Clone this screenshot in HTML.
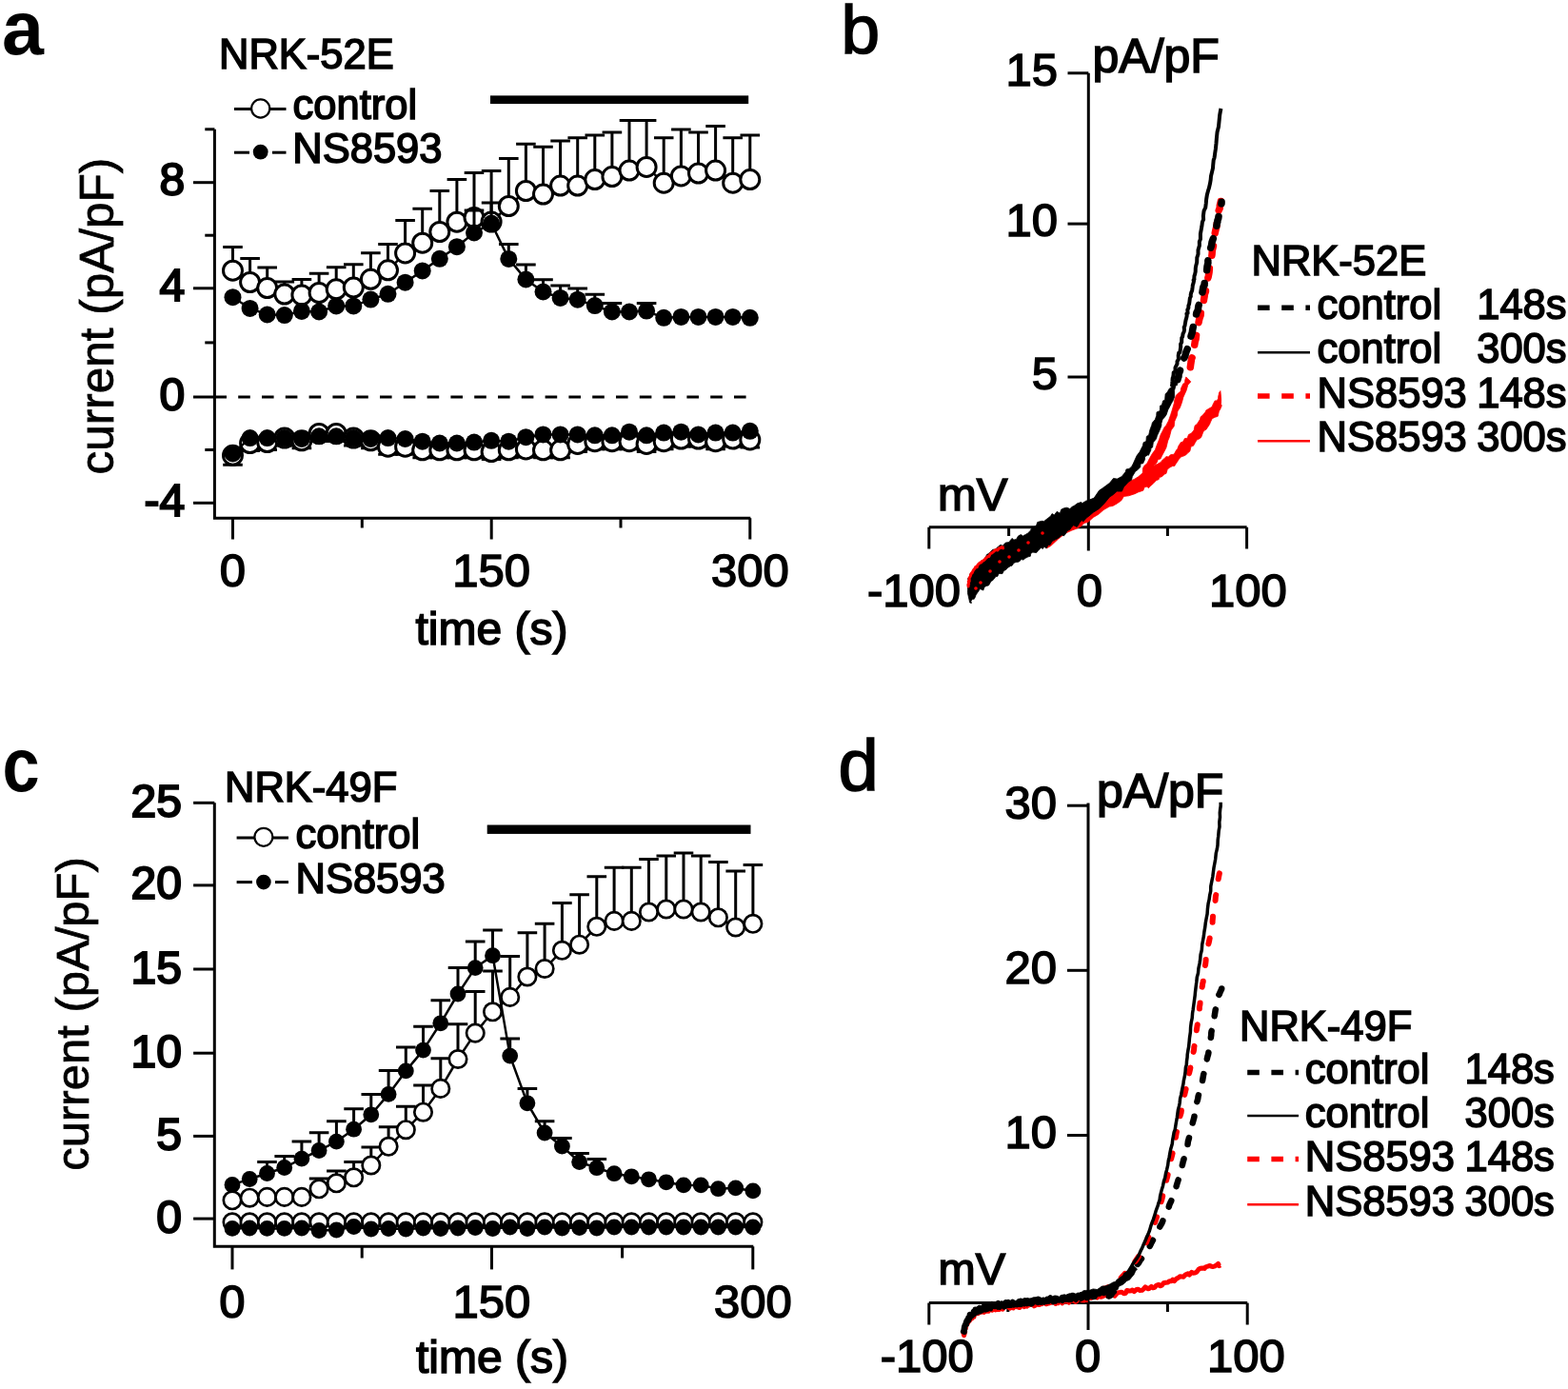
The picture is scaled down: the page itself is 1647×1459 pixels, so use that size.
<!DOCTYPE html>
<html><head><meta charset="utf-8"><title>Figure</title>
<style>
html,body{margin:0;padding:0;background:#fff;overflow:hidden;width:1647px;height:1459px;}
svg{display:block;}
text{font-family:"Liberation Sans", Arial, Helvetica, sans-serif;fill:#000;}
</style></head>
<body>
<svg width="1647" height="1459" viewBox="0 0 1647 1459">
<rect width="1647" height="1459" fill="#fff"/>
<path d="M225.4,135.8 V544.2 H788.3" fill="none" stroke="#000" stroke-width="3"/>
<line x1="203" y1="191.7" x2="225.4" y2="191.7" stroke="#000" stroke-width="3"/>
<line x1="203" y1="302.8" x2="225.4" y2="302.8" stroke="#000" stroke-width="3"/>
<line x1="203" y1="417" x2="225.4" y2="417" stroke="#000" stroke-width="3"/>
<line x1="203" y1="528.3" x2="225.4" y2="528.3" stroke="#000" stroke-width="3"/>
<line x1="215.3" y1="135.8" x2="225.4" y2="135.8" stroke="#000" stroke-width="3"/>
<line x1="215.3" y1="247.2" x2="225.4" y2="247.2" stroke="#000" stroke-width="3"/>
<line x1="215.3" y1="359.9" x2="225.4" y2="359.9" stroke="#000" stroke-width="3"/>
<line x1="215.3" y1="472.5" x2="225.4" y2="472.5" stroke="#000" stroke-width="3"/>
<line x1="244.5" y1="544.2" x2="244.5" y2="566.5" stroke="#000" stroke-width="3"/>
<line x1="516.2" y1="544.2" x2="516.2" y2="566.5" stroke="#000" stroke-width="3"/>
<line x1="787.8" y1="544.2" x2="787.8" y2="566.5" stroke="#000" stroke-width="3"/>
<line x1="380.3" y1="544.2" x2="380.3" y2="554.5" stroke="#000" stroke-width="3"/>
<line x1="652" y1="544.2" x2="652" y2="554.5" stroke="#000" stroke-width="3"/>
<line x1="225.4" y1="417" x2="786" y2="417" stroke="#000" stroke-width="3" stroke-dasharray="12.6 12.2"/>
<rect x="515" y="100.4" width="271.2" height="8.7" fill="#000"/>
<path d="M244.5,284.2 V259.5 M234.2,259.5 H254.8" stroke="#000" stroke-width="3" fill="none"/>
<path d="M262.6,296.5 V271.6 M252.3,271.6 H272.9" stroke="#000" stroke-width="3" fill="none"/>
<path d="M280.7,302.6 V281.1 M270.4,281.1 H291" stroke="#000" stroke-width="3" fill="none"/>
<path d="M298.8,309 V296 M288.5,296 H309.1" stroke="#000" stroke-width="3" fill="none"/>
<path d="M316.9,309.9 V293.5 M306.6,293.5 H327.2" stroke="#000" stroke-width="3" fill="none"/>
<path d="M335.1,307.5 V287.2 M324.8,287.2 H345.4" stroke="#000" stroke-width="3" fill="none"/>
<path d="M353.2,303.8 V280.8 M342.9,280.8 H363.5" stroke="#000" stroke-width="3" fill="none"/>
<path d="M371.3,302 V277.7 M361,277.7 H381.6" stroke="#000" stroke-width="3" fill="none"/>
<path d="M389.4,293.3 V265.8 M379.1,265.8 H399.7" stroke="#000" stroke-width="3" fill="none"/>
<path d="M407.5,283.8 V256.5 M397.2,256.5 H417.8" stroke="#000" stroke-width="3" fill="none"/>
<path d="M425.6,265.9 V231.4 M415.3,231.4 H435.9" stroke="#000" stroke-width="3" fill="none"/>
<path d="M443.7,255.2 V219.3 M433.4,219.3 H454" stroke="#000" stroke-width="3" fill="none"/>
<path d="M461.8,243.5 V200.6 M451.5,200.6 H472.1" stroke="#000" stroke-width="3" fill="none"/>
<path d="M479.9,233.2 V188.5 M469.6,188.5 H490.2" stroke="#000" stroke-width="3" fill="none"/>
<path d="M498,228.5 V181.6 M487.7,181.6 H508.3" stroke="#000" stroke-width="3" fill="none"/>
<path d="M516.1,233 V179.6 M505.8,179.6 H526.4" stroke="#000" stroke-width="3" fill="none"/>
<path d="M534.3,216.5 V166.5 M524,166.5 H544.6" stroke="#000" stroke-width="3" fill="none"/>
<path d="M552.4,200.5 V151.3 M542.1,151.3 H562.7" stroke="#000" stroke-width="3" fill="none"/>
<path d="M570.5,204.1 V154.3 M560.2,154.3 H580.8" stroke="#000" stroke-width="3" fill="none"/>
<path d="M588.6,195.1 V148 M578.3,148 H598.9" stroke="#000" stroke-width="3" fill="none"/>
<path d="M606.7,195.1 V144.8 M596.4,144.8 H617" stroke="#000" stroke-width="3" fill="none"/>
<path d="M624.8,188.6 V141.9 M614.5,141.9 H635.1" stroke="#000" stroke-width="3" fill="none"/>
<path d="M642.9,185.6 V139 M632.6,139 H653.2" stroke="#000" stroke-width="3" fill="none"/>
<path d="M661,179.1 V126.6 M650.7,126.6 H671.3" stroke="#000" stroke-width="3" fill="none"/>
<path d="M679.1,175.4 V126.6 M668.8,126.6 H689.4" stroke="#000" stroke-width="3" fill="none"/>
<path d="M697.2,192.2 V144.8 M687,144.8 H707.5" stroke="#000" stroke-width="3" fill="none"/>
<path d="M715.4,184.9 V136.1 M705.1,136.1 H725.7" stroke="#000" stroke-width="3" fill="none"/>
<path d="M733.5,182 V139 M723.2,139 H743.8" stroke="#000" stroke-width="3" fill="none"/>
<path d="M751.6,179.1 V132.5 M741.3,132.5 H761.9" stroke="#000" stroke-width="3" fill="none"/>
<path d="M769.7,192.2 V144.8 M759.4,144.8 H780" stroke="#000" stroke-width="3" fill="none"/>
<path d="M787.8,188.6 V141.9 M777.5,141.9 H798.1" stroke="#000" stroke-width="3" fill="none"/>
<polyline points="244.5,284.2 262.6,296.5 280.7,302.6 298.8,309 316.9,309.9 335.1,307.5 353.2,303.8 371.3,302 389.4,293.3 407.5,283.8 425.6,265.9 443.7,255.2 461.8,243.5 479.9,233.2 498,228.5 516.1,233 534.3,216.5 552.4,200.5 570.5,204.1 588.6,195.1 606.7,195.1 624.8,188.6 642.9,185.6 661,179.1 679.1,175.4 697.2,192.2 715.4,184.9 733.5,182 751.6,179.1 769.7,192.2 787.8,188.6" fill="none" stroke="#000" stroke-width="2.5" stroke-linejoin="round"/>
<circle cx="244.5" cy="284.2" r="10" fill="#fff" stroke="#000" stroke-width="3"/>
<circle cx="262.6" cy="296.5" r="10" fill="#fff" stroke="#000" stroke-width="3"/>
<circle cx="280.7" cy="302.6" r="10" fill="#fff" stroke="#000" stroke-width="3"/>
<circle cx="298.8" cy="309" r="10" fill="#fff" stroke="#000" stroke-width="3"/>
<circle cx="316.9" cy="309.9" r="10" fill="#fff" stroke="#000" stroke-width="3"/>
<circle cx="335.1" cy="307.5" r="10" fill="#fff" stroke="#000" stroke-width="3"/>
<circle cx="353.2" cy="303.8" r="10" fill="#fff" stroke="#000" stroke-width="3"/>
<circle cx="371.3" cy="302" r="10" fill="#fff" stroke="#000" stroke-width="3"/>
<circle cx="389.4" cy="293.3" r="10" fill="#fff" stroke="#000" stroke-width="3"/>
<circle cx="407.5" cy="283.8" r="10" fill="#fff" stroke="#000" stroke-width="3"/>
<circle cx="425.6" cy="265.9" r="10" fill="#fff" stroke="#000" stroke-width="3"/>
<circle cx="443.7" cy="255.2" r="10" fill="#fff" stroke="#000" stroke-width="3"/>
<circle cx="461.8" cy="243.5" r="10" fill="#fff" stroke="#000" stroke-width="3"/>
<circle cx="479.9" cy="233.2" r="10" fill="#fff" stroke="#000" stroke-width="3"/>
<circle cx="498" cy="228.5" r="10" fill="#fff" stroke="#000" stroke-width="3"/>
<circle cx="516.1" cy="233" r="10" fill="#fff" stroke="#000" stroke-width="3"/>
<circle cx="534.3" cy="216.5" r="10" fill="#fff" stroke="#000" stroke-width="3"/>
<circle cx="552.4" cy="200.5" r="10" fill="#fff" stroke="#000" stroke-width="3"/>
<circle cx="570.5" cy="204.1" r="10" fill="#fff" stroke="#000" stroke-width="3"/>
<circle cx="588.6" cy="195.1" r="10" fill="#fff" stroke="#000" stroke-width="3"/>
<circle cx="606.7" cy="195.1" r="10" fill="#fff" stroke="#000" stroke-width="3"/>
<circle cx="624.8" cy="188.6" r="10" fill="#fff" stroke="#000" stroke-width="3"/>
<circle cx="642.9" cy="185.6" r="10" fill="#fff" stroke="#000" stroke-width="3"/>
<circle cx="661" cy="179.1" r="10" fill="#fff" stroke="#000" stroke-width="3"/>
<circle cx="679.1" cy="175.4" r="10" fill="#fff" stroke="#000" stroke-width="3"/>
<circle cx="697.2" cy="192.2" r="10" fill="#fff" stroke="#000" stroke-width="3"/>
<circle cx="715.4" cy="184.9" r="10" fill="#fff" stroke="#000" stroke-width="3"/>
<circle cx="733.5" cy="182" r="10" fill="#fff" stroke="#000" stroke-width="3"/>
<circle cx="751.6" cy="179.1" r="10" fill="#fff" stroke="#000" stroke-width="3"/>
<circle cx="769.7" cy="192.2" r="10" fill="#fff" stroke="#000" stroke-width="3"/>
<circle cx="787.8" cy="188.6" r="10" fill="#fff" stroke="#000" stroke-width="3"/>
<path d="M498,244.5 V221 M487.7,221 H508.3" stroke="#000" stroke-width="3" fill="none"/>
<path d="M516.1,234.5 V213 M505.8,213 H526.4" stroke="#000" stroke-width="3" fill="none"/>
<path d="M534.3,271.9 V256.4 M524,256.4 H544.6" stroke="#000" stroke-width="3" fill="none"/>
<path d="M552.4,293.5 V277.9 M542.1,277.9 H562.7" stroke="#000" stroke-width="3" fill="none"/>
<path d="M570.5,306.5 V293.8 M560.2,293.8 H580.8" stroke="#000" stroke-width="3" fill="none"/>
<path d="M588.6,312.9 V300.1 M578.3,300.1 H598.9" stroke="#000" stroke-width="3" fill="none"/>
<path d="M606.7,314.7 V302.9 M596.4,302.9 H617" stroke="#000" stroke-width="3" fill="none"/>
<path d="M624.8,321.1 V309.3 M614.5,309.3 H635.1" stroke="#000" stroke-width="3" fill="none"/>
<path d="M642.9,327.5 V318.4 M632.6,318.4 H653.2" stroke="#000" stroke-width="3" fill="none"/>
<path d="M679.1,326.6 V318.4 M668.8,318.4 H689.4" stroke="#000" stroke-width="3" fill="none"/>
<polyline points="244.5,312.2 262.6,323.9 280.7,330.5 298.8,331.1 316.9,326.9 335.1,327.5 353.2,321.4 371.3,321.4 389.4,314.6 407.5,308.8 425.6,296.7 443.7,284.4 461.8,271.8 479.9,259.2 498,244.5 516.1,234.5 534.3,271.9 552.4,293.5 570.5,306.5 588.6,312.9 606.7,314.7 624.8,321.1 642.9,327.5 661,327.5 679.1,326.6 697.2,333.8 715.4,332.9 733.5,332.9 751.6,332.9 769.7,332.9 787.8,333.8" fill="none" stroke="#000" stroke-width="2.5" stroke-linejoin="round"/>
<circle cx="244.5" cy="312.2" r="9" fill="#000"/>
<circle cx="262.6" cy="323.9" r="9" fill="#000"/>
<circle cx="280.7" cy="330.5" r="9" fill="#000"/>
<circle cx="298.8" cy="331.1" r="9" fill="#000"/>
<circle cx="316.9" cy="326.9" r="9" fill="#000"/>
<circle cx="335.1" cy="327.5" r="9" fill="#000"/>
<circle cx="353.2" cy="321.4" r="9" fill="#000"/>
<circle cx="371.3" cy="321.4" r="9" fill="#000"/>
<circle cx="389.4" cy="314.6" r="9" fill="#000"/>
<circle cx="407.5" cy="308.8" r="9" fill="#000"/>
<circle cx="425.6" cy="296.7" r="9" fill="#000"/>
<circle cx="443.7" cy="284.4" r="9" fill="#000"/>
<circle cx="461.8" cy="271.8" r="9" fill="#000"/>
<circle cx="479.9" cy="259.2" r="9" fill="#000"/>
<circle cx="498" cy="244.5" r="9" fill="#000"/>
<circle cx="516.1" cy="234.5" r="9" fill="#000"/>
<circle cx="534.3" cy="271.9" r="9" fill="#000"/>
<circle cx="552.4" cy="293.5" r="9" fill="#000"/>
<circle cx="570.5" cy="306.5" r="9" fill="#000"/>
<circle cx="588.6" cy="312.9" r="9" fill="#000"/>
<circle cx="606.7" cy="314.7" r="9" fill="#000"/>
<circle cx="624.8" cy="321.1" r="9" fill="#000"/>
<circle cx="642.9" cy="327.5" r="9" fill="#000"/>
<circle cx="661" cy="327.5" r="9" fill="#000"/>
<circle cx="679.1" cy="326.6" r="9" fill="#000"/>
<circle cx="697.2" cy="333.8" r="9" fill="#000"/>
<circle cx="715.4" cy="332.9" r="9" fill="#000"/>
<circle cx="733.5" cy="332.9" r="9" fill="#000"/>
<circle cx="751.6" cy="332.9" r="9" fill="#000"/>
<circle cx="769.7" cy="332.9" r="9" fill="#000"/>
<circle cx="787.8" cy="333.8" r="9" fill="#000"/>
<path d="M244.5,478.3 V488.3 M234.2,488.3 H254.8" stroke="#000" stroke-width="3" fill="none"/>
<path d="M262.6,465.5 V473.5 M252.3,473.5 H272.9" stroke="#000" stroke-width="3" fill="none"/>
<path d="M280.7,464.6 V472.6 M270.4,472.6 H291" stroke="#000" stroke-width="3" fill="none"/>
<path d="M298.8,460 V468 M288.5,468 H309.1" stroke="#000" stroke-width="3" fill="none"/>
<path d="M316.9,462.8 V470.8 M306.6,470.8 H327.2" stroke="#000" stroke-width="3" fill="none"/>
<path d="M335.1,455.5 V463.5 M324.8,463.5 H345.4" stroke="#000" stroke-width="3" fill="none"/>
<path d="M353.2,455.5 V463.5 M342.9,463.5 H363.5" stroke="#000" stroke-width="3" fill="none"/>
<path d="M371.3,460 V468 M361,468 H381.6" stroke="#000" stroke-width="3" fill="none"/>
<path d="M389.4,462.8 V470.8 M379.1,470.8 H399.7" stroke="#000" stroke-width="3" fill="none"/>
<path d="M407.5,469.2 V477.2 M397.2,477.2 H417.8" stroke="#000" stroke-width="3" fill="none"/>
<path d="M425.6,469.2 V477.2 M415.3,477.2 H435.9" stroke="#000" stroke-width="3" fill="none"/>
<path d="M443.7,472.8 V480.8 M433.4,480.8 H454" stroke="#000" stroke-width="3" fill="none"/>
<path d="M461.8,472.8 V480.8 M451.5,480.8 H472.1" stroke="#000" stroke-width="3" fill="none"/>
<path d="M479.9,472.8 V480.8 M469.6,480.8 H490.2" stroke="#000" stroke-width="3" fill="none"/>
<path d="M498,472.8 V480.8 M487.7,480.8 H508.3" stroke="#000" stroke-width="3" fill="none"/>
<path d="M516.1,474.6 V482.6 M505.8,482.6 H526.4" stroke="#000" stroke-width="3" fill="none"/>
<path d="M534.3,472.8 V480.8 M524,480.8 H544.6" stroke="#000" stroke-width="3" fill="none"/>
<path d="M552.4,471.9 V479.9 M542.1,479.9 H562.7" stroke="#000" stroke-width="3" fill="none"/>
<path d="M570.5,472.8 V480.8 M560.2,480.8 H580.8" stroke="#000" stroke-width="3" fill="none"/>
<path d="M588.6,472.8 V480.8 M578.3,480.8 H598.9" stroke="#000" stroke-width="3" fill="none"/>
<path d="M606.7,466.4 V474.4 M596.4,474.4 H617" stroke="#000" stroke-width="3" fill="none"/>
<path d="M624.8,463.7 V471.7 M614.5,471.7 H635.1" stroke="#000" stroke-width="3" fill="none"/>
<path d="M642.9,463.7 V471.7 M632.6,471.7 H653.2" stroke="#000" stroke-width="3" fill="none"/>
<path d="M661,463.7 V471.7 M650.7,471.7 H671.3" stroke="#000" stroke-width="3" fill="none"/>
<path d="M679.1,466.4 V474.4 M668.8,474.4 H689.4" stroke="#000" stroke-width="3" fill="none"/>
<path d="M697.2,463.7 V471.7 M687,471.7 H707.5" stroke="#000" stroke-width="3" fill="none"/>
<path d="M715.4,461 V469 M705.1,469 H725.7" stroke="#000" stroke-width="3" fill="none"/>
<path d="M733.5,461 V469 M723.2,469 H743.8" stroke="#000" stroke-width="3" fill="none"/>
<path d="M751.6,463.7 V471.7 M741.3,471.7 H761.9" stroke="#000" stroke-width="3" fill="none"/>
<path d="M769.7,461 V469 M759.4,469 H780" stroke="#000" stroke-width="3" fill="none"/>
<path d="M787.8,461.9 V469.9 M777.5,469.9 H798.1" stroke="#000" stroke-width="3" fill="none"/>
<polyline points="244.5,478.3 262.6,465.5 280.7,464.6 298.8,460 316.9,462.8 335.1,455.5 353.2,455.5 371.3,460 389.4,462.8 407.5,469.2 425.6,469.2 443.7,472.8 461.8,472.8 479.9,472.8 498,472.8 516.1,474.6 534.3,472.8 552.4,471.9 570.5,472.8 588.6,472.8 606.7,466.4 624.8,463.7 642.9,463.7 661,463.7 679.1,466.4 697.2,463.7 715.4,461 733.5,461 751.6,463.7 769.7,461 787.8,461.9" fill="none" stroke="#000" stroke-width="2.5" stroke-linejoin="round"/>
<circle cx="244.5" cy="478.3" r="10" fill="#fff" stroke="#000" stroke-width="3"/>
<circle cx="262.6" cy="465.5" r="10" fill="#fff" stroke="#000" stroke-width="3"/>
<circle cx="280.7" cy="464.6" r="10" fill="#fff" stroke="#000" stroke-width="3"/>
<circle cx="298.8" cy="460" r="10" fill="#fff" stroke="#000" stroke-width="3"/>
<circle cx="316.9" cy="462.8" r="10" fill="#fff" stroke="#000" stroke-width="3"/>
<circle cx="335.1" cy="455.5" r="10" fill="#fff" stroke="#000" stroke-width="3"/>
<circle cx="353.2" cy="455.5" r="10" fill="#fff" stroke="#000" stroke-width="3"/>
<circle cx="371.3" cy="460" r="10" fill="#fff" stroke="#000" stroke-width="3"/>
<circle cx="389.4" cy="462.8" r="10" fill="#fff" stroke="#000" stroke-width="3"/>
<circle cx="407.5" cy="469.2" r="10" fill="#fff" stroke="#000" stroke-width="3"/>
<circle cx="425.6" cy="469.2" r="10" fill="#fff" stroke="#000" stroke-width="3"/>
<circle cx="443.7" cy="472.8" r="10" fill="#fff" stroke="#000" stroke-width="3"/>
<circle cx="461.8" cy="472.8" r="10" fill="#fff" stroke="#000" stroke-width="3"/>
<circle cx="479.9" cy="472.8" r="10" fill="#fff" stroke="#000" stroke-width="3"/>
<circle cx="498" cy="472.8" r="10" fill="#fff" stroke="#000" stroke-width="3"/>
<circle cx="516.1" cy="474.6" r="10" fill="#fff" stroke="#000" stroke-width="3"/>
<circle cx="534.3" cy="472.8" r="10" fill="#fff" stroke="#000" stroke-width="3"/>
<circle cx="552.4" cy="471.9" r="10" fill="#fff" stroke="#000" stroke-width="3"/>
<circle cx="570.5" cy="472.8" r="10" fill="#fff" stroke="#000" stroke-width="3"/>
<circle cx="588.6" cy="472.8" r="10" fill="#fff" stroke="#000" stroke-width="3"/>
<circle cx="606.7" cy="466.4" r="10" fill="#fff" stroke="#000" stroke-width="3"/>
<circle cx="624.8" cy="463.7" r="10" fill="#fff" stroke="#000" stroke-width="3"/>
<circle cx="642.9" cy="463.7" r="10" fill="#fff" stroke="#000" stroke-width="3"/>
<circle cx="661" cy="463.7" r="10" fill="#fff" stroke="#000" stroke-width="3"/>
<circle cx="679.1" cy="466.4" r="10" fill="#fff" stroke="#000" stroke-width="3"/>
<circle cx="697.2" cy="463.7" r="10" fill="#fff" stroke="#000" stroke-width="3"/>
<circle cx="715.4" cy="461" r="10" fill="#fff" stroke="#000" stroke-width="3"/>
<circle cx="733.5" cy="461" r="10" fill="#fff" stroke="#000" stroke-width="3"/>
<circle cx="751.6" cy="463.7" r="10" fill="#fff" stroke="#000" stroke-width="3"/>
<circle cx="769.7" cy="461" r="10" fill="#fff" stroke="#000" stroke-width="3"/>
<circle cx="787.8" cy="461.9" r="10" fill="#fff" stroke="#000" stroke-width="3"/>
<polyline points="244.5,476.5 262.6,460.1 280.7,460.1 298.8,460.1 316.9,461 335.1,458.3 353.2,458.3 371.3,460.1 389.4,461 407.5,460.1 425.6,461 443.7,463.7 461.8,465.5 479.9,465.5 498,464.6 516.1,462.8 534.3,463.7 552.4,459.2 570.5,456.4 588.6,456.4 606.7,456.4 624.8,457.3 642.9,457.3 661,453.7 679.1,457.3 697.2,454.6 715.4,453.7 733.5,456.4 751.6,454.6 769.7,454.6 787.8,452.8" fill="none" stroke="#000" stroke-width="2.5" stroke-linejoin="round"/>
<circle cx="244.5" cy="476.5" r="9" fill="#000"/>
<circle cx="262.6" cy="460.1" r="9" fill="#000"/>
<circle cx="280.7" cy="460.1" r="9" fill="#000"/>
<circle cx="298.8" cy="460.1" r="9" fill="#000"/>
<circle cx="316.9" cy="461" r="9" fill="#000"/>
<circle cx="335.1" cy="458.3" r="9" fill="#000"/>
<circle cx="353.2" cy="458.3" r="9" fill="#000"/>
<circle cx="371.3" cy="460.1" r="9" fill="#000"/>
<circle cx="389.4" cy="461" r="9" fill="#000"/>
<circle cx="407.5" cy="460.1" r="9" fill="#000"/>
<circle cx="425.6" cy="461" r="9" fill="#000"/>
<circle cx="443.7" cy="463.7" r="9" fill="#000"/>
<circle cx="461.8" cy="465.5" r="9" fill="#000"/>
<circle cx="479.9" cy="465.5" r="9" fill="#000"/>
<circle cx="498" cy="464.6" r="9" fill="#000"/>
<circle cx="516.1" cy="462.8" r="9" fill="#000"/>
<circle cx="534.3" cy="463.7" r="9" fill="#000"/>
<circle cx="552.4" cy="459.2" r="9" fill="#000"/>
<circle cx="570.5" cy="456.4" r="9" fill="#000"/>
<circle cx="588.6" cy="456.4" r="9" fill="#000"/>
<circle cx="606.7" cy="456.4" r="9" fill="#000"/>
<circle cx="624.8" cy="457.3" r="9" fill="#000"/>
<circle cx="642.9" cy="457.3" r="9" fill="#000"/>
<circle cx="661" cy="453.7" r="9" fill="#000"/>
<circle cx="679.1" cy="457.3" r="9" fill="#000"/>
<circle cx="697.2" cy="454.6" r="9" fill="#000"/>
<circle cx="715.4" cy="453.7" r="9" fill="#000"/>
<circle cx="733.5" cy="456.4" r="9" fill="#000"/>
<circle cx="751.6" cy="454.6" r="9" fill="#000"/>
<circle cx="769.7" cy="454.6" r="9" fill="#000"/>
<circle cx="787.8" cy="452.8" r="9" fill="#000"/>
<text x="194.3" y="205.3" font-size="48" stroke="#000" stroke-width="2.1" text-anchor="end">8</text>
<text x="194.3" y="316.4" font-size="48" stroke="#000" stroke-width="2.1" text-anchor="end">4</text>
<text x="194.3" y="430.6" font-size="48" stroke="#000" stroke-width="2.1" text-anchor="end">0</text>
<text x="194.3" y="541.9" font-size="48" stroke="#000" stroke-width="2.1" text-anchor="end">-4</text>
<text x="244.5" y="616.3" font-size="49" stroke="#000" stroke-width="1.6" text-anchor="middle">0</text>
<text x="516.2" y="616.3" font-size="49" stroke="#000" stroke-width="1.6" text-anchor="middle">150</text>
<text x="787.8" y="616.3" font-size="49" stroke="#000" stroke-width="1.6" text-anchor="middle">300</text>
<text x="516.5" y="676.5" font-size="48" stroke="#000" stroke-width="1.6" text-anchor="middle">time (s)</text>
<text transform="translate(119,332.2) rotate(-90)" font-size="49.5" text-anchor="middle" stroke="#000" stroke-width="0.8">current (pA/pF)</text>
<text x="230" y="71.8" font-size="43.5" stroke="#000" stroke-width="1.6">NRK-52E</text>
<line x1="246" y1="114.5" x2="300.5" y2="114.5" stroke="#000" stroke-width="3"/>
<circle cx="273.7" cy="114" r="9.6" fill="#fff" stroke="#000" stroke-width="2.2"/>
<text x="307.5" y="124.7" font-size="43.5" stroke="#000" stroke-width="1.6">control</text>
<line x1="246" y1="160.2" x2="262" y2="160.2" stroke="#000" stroke-width="3"/>
<line x1="286" y1="160.2" x2="300.5" y2="160.2" stroke="#000" stroke-width="3"/>
<circle cx="273.7" cy="159.6" r="7.9" fill="#000"/>
<text x="307.3" y="170.5" font-size="43.5" stroke="#000" stroke-width="1.6">NS8593</text>
<text x="2" y="57" font-size="79" font-weight="bold">a</text>
<line x1="1143.3" y1="76.8" x2="1143.3" y2="553.8" stroke="#000" stroke-width="3"/>
<line x1="975.8" y1="553.8" x2="1309.6" y2="553.8" stroke="#000" stroke-width="3"/>
<line x1="1121.5" y1="76.8" x2="1143.3" y2="76.8" stroke="#000" stroke-width="3"/>
<line x1="1121.5" y1="235.1" x2="1143.3" y2="235.1" stroke="#000" stroke-width="3"/>
<line x1="1121.5" y1="396" x2="1143.3" y2="396" stroke="#000" stroke-width="3"/>
<line x1="975.8" y1="553.8" x2="975.8" y2="576.5" stroke="#000" stroke-width="3"/>
<line x1="1143.3" y1="553.8" x2="1143.3" y2="578.5" stroke="#000" stroke-width="3"/>
<line x1="1309.6" y1="553.8" x2="1309.6" y2="576.5" stroke="#000" stroke-width="3"/>
<line x1="1059.6" y1="553.8" x2="1059.6" y2="563" stroke="#000" stroke-width="3"/>
<line x1="1226.4" y1="553.8" x2="1226.4" y2="563" stroke="#000" stroke-width="3"/>
<polygon points="1099.7,570.9 1105.1,567.1 1111.9,562.8 1118.5,557.7 1125,552.8 1130,548.4 1135,548 1138.5,543.4 1143.9,542.4 1149,536.2 1155.2,530 1160.4,525.7 1164,520.8 1168.7,519.5 1172.4,515.8 1177.2,512.4 1181.2,508.6 1185.1,505.9 1191.4,503.4 1195.6,500.8 1199.9,497.2 1203.4,496.2 1204.3,493.8 1206.4,493 1208.6,489.7 1211.2,488.2 1212.1,489.6 1213.7,488.1 1215.5,487.6 1219,485.7 1221.3,482.9 1223,481.7 1224.9,479.6 1227.4,480 1228.8,478.3 1230,477.6 1233.2,477.2 1235.6,472.8 1236.8,471.5 1238.1,468.1 1240.5,464.5 1242.3,464.3 1244.5,460.5 1247,460.4 1248.5,456.5 1251.5,455 1254.1,451.8 1255.1,447.1 1257.3,445.5 1260.5,440.4 1261.1,437.9 1263.2,436.2 1266,432.9 1266.9,431 1269.8,429.2 1273,427.4 1274,425 1276.1,420.9 1278.1,420.9 1279.5,418.8 1279.8,415.7 1280.1,415 1280.6,412.1 1281.3,411.5 1281.9,410.6 1282.5,416.9 1282.7,419.8 1282.5,424.7 1283.3,426 1281.7,429.9 1280.4,431.9 1279.2,437.3 1276.1,438.3 1273.2,439.7 1271.6,443.1 1270.5,445.8 1266.9,451.2 1265.9,451.5 1263.8,453.7 1261.8,459.1 1260.4,460.6 1257.1,462 1254.9,465.8 1253.5,468.3 1251,469 1249.9,473.9 1247.9,475.6 1245.8,477.8 1242.6,479.3 1240.8,479.8 1238.1,482.4 1236.5,485.3 1235.8,486 1233.7,489.5 1231.7,489.5 1228.3,491.2 1226.2,493.3 1224.9,497.5 1223.3,497.9 1220.8,500.5 1217.7,501.6 1217.2,503.6 1214.8,504.5 1211.7,507.5 1209.9,509.4 1209.1,509.8 1206.2,512.7 1205.2,511 1202.1,511.8 1200.8,515.2 1195.3,517.1 1192,518.7 1185.6,520.8 1180.4,521.4 1177.8,525.8 1173.1,529.1 1168.9,531.4 1165.3,532.1 1159.2,535.6 1153.8,540.3 1148.4,543.4 1143,548.3 1138.9,549.4 1135.3,553 1130.7,555.3 1125.9,557.1 1119.4,560 1111.7,566.1 1103.9,573.3 1099.4,575.9" fill="#ff0000" stroke="#ff0000" stroke-width="0.8" stroke-linejoin="round"/>
<polygon points="1200.4,492.2 1201.7,489.5 1204.9,486.7 1207.3,481.8 1210.3,476.6 1213.4,472.4 1215.1,467.7 1217.6,461.5 1219.1,456.7 1221,453.1 1223,449 1225.1,446.4 1227.4,442.1 1229.8,435.2 1231,431.4 1233.3,423.5 1233.9,419.5 1235.5,415.2 1237.2,413.3 1240.1,411.2 1240.5,407.9 1242.8,403.1 1244.6,402.2 1244.7,399.3 1245.8,396 1250.8,400.9 1247.8,404.2 1246,410.4 1242.9,417.2 1241.5,422.5 1239.4,428.3 1236.9,432 1236.4,436.5 1233.8,442.4 1233.2,447.8 1230.2,451.8 1228.3,459.3 1226.7,463 1225,470.1 1223.6,472.9 1220.4,478.9 1219,481.9 1216.2,482.7 1215.3,485.7 1212.2,488.8 1210.9,490.4 1207.3,493.3 1204.1,496.3 1201.9,497.6 1200.1,501.2" fill="#ff0000" stroke="#ff0000" stroke-width="0.8" stroke-linejoin="round"/>
<polyline points="1247.9,397.4 1248.3,396.1 1248.4,394 1248.8,391.8 1249.4,389.3 1250.2,386.5 1250.6,383.4 1251.1,380.2 1251.5,377.2 1252.4,375.1 1252.6,371.8 1253.7,368 1254.3,365.1 1254.7,362.4 1255.3,358.5 1256.1,356 1256.5,352.5 1257.3,349.1 1257.8,345.6 1258.2,342.2 1258.8,340.1 1259.5,336.2 1260,334.3 1261.1,331.2 1261.4,327.6 1262,325.1 1262.5,322.3 1263.2,320.4 1264.3,317 1264.5,315 1265.1,311.3 1265.5,308.7 1266.4,306.2 1266.7,303.6 1267.1,300.6 1267.6,298.2 1268,295 1268.6,292.8 1269.2,290.6 1269.7,288.1 1270.1,285.6 1270.4,281.8 1271.3,278.4 1271.6,276.1 1271.7,273.2 1272.7,269.7 1273.1,266.8 1273.3,263.1 1274,260.5 1274.7,257.4 1275.1,254.4 1275.7,251 1275.9,246.8 1276.3,244.3 1276.8,242.1 1277.6,238.9 1278.1,236.3 1278.4,232.6 1279,231.4 1279.2,228.7 1279.7,225.7 1280.1,223.8 1280,221.7 1280.8,219.5 1281.2,218.8 1281.3,215.8 1281.7,214.2 1282.3,212 1282.5,209.2 1282.5,207.7 1283.2,206.1 1283.4,204.3 1283.2,203.6" fill="none" stroke="#ff0000" stroke-width="7.5" stroke-linejoin="round" stroke-dasharray="10 14" stroke-dashoffset="12" stroke-linecap="round"/>
<polygon points="1016.4,622.7 1016.5,619.4 1016.4,617.4 1016.6,613.2 1017.9,610.9 1018.3,611.4 1016.4,607.7 1018.6,607.5 1018.8,602.8 1020,602.6 1022.3,598.6 1024.6,595.6 1028.8,591.6 1030.7,590.6 1033.1,589 1033.9,587.6 1036.7,582.3 1037.9,581.8 1041.1,579 1042.7,577.2 1045.3,577.2 1046.9,575.5 1050.9,572.2 1053.3,573.3 1055.5,570.7 1056.5,570 1060.1,569.6 1061,567.9 1063,565.4 1064.9,567.1 1067.5,566.4 1069.6,562.9 1072.4,561.5 1074.4,563 1077.7,561.2 1079.4,560.2 1082.3,557.4 1084,553.9 1086.3,553.4 1088.5,552.2 1089.7,548.5 1093.3,547.5 1094.6,547.3 1096.4,547.7 1100.1,544.8 1101.7,543.5 1103.7,542.1 1105,539.6 1107.4,540.9 1110.2,537.3 1113.4,539.2 1114.6,535.3 1116.3,534.3 1118.9,533.4 1120.9,533.2 1123.8,534.6 1126.4,532 1127.9,531.5 1130.1,529.9 1131.6,528.8 1135.8,527.4 1136.7,528.7 1139.3,527 1140.1,526.4 1143.5,525.3 1149.2,523.1 1154.5,515.2 1158.5,512.5 1165.6,507.3 1169.5,502.4 1173.4,503.1 1178.3,500.5 1182.1,495.8 1183,492.9 1186,492.4 1188.8,489.9 1190.3,487 1192.4,482.3 1194.1,478.6 1197.1,474.6 1200.3,468.3 1201.1,464.8 1203.9,463.5 1204.3,458.4 1206.7,457 1207.8,451.8 1209.7,446.7 1210.4,444 1213.3,440.7 1214.7,436.7 1215,432.9 1218.3,431.6 1218.5,426.2 1220.4,425.5 1221.6,420.9 1223.6,420.2 1224.1,413.9 1226,412.1 1228.5,407.9 1230.4,406.7 1231.3,401.9 1233.7,399.8 1234.8,397.2 1234.6,397.3 1235.6,396.6 1239,396.9 1238.1,398.3 1238.7,401.1 1237,400.4 1236.4,404.7 1235.1,404.7 1233.5,410.3 1233.7,416.7 1231.8,421.5 1230.6,423.3 1227.3,429.7 1226.8,430.6 1225.1,435.7 1222.9,438.8 1221.1,440.5 1219.9,444.7 1219.9,447.1 1218.3,451.4 1215.3,457.9 1214.6,460.8 1211.3,464.8 1210.6,469.9 1208.8,471.1 1208.9,472.8 1206.4,478.3 1205.6,477.9 1202.4,479.9 1202.6,482.5 1200.5,486.9 1198,487 1197.8,490.7 1194.6,493.8 1192.6,495.2 1189.4,500.5 1188.5,504.2 1185.5,506.1 1180.5,511.4 1178.4,516.1 1173.2,516.1 1169.1,519.7 1165.6,522 1160.1,528.7 1154.4,534.4 1148.4,538.2 1143.3,542.5 1141.2,544 1137.8,547.9 1136.2,546.5 1133.8,549.4 1132.2,552.3 1131.2,553.6 1127.6,551.7 1125,554.6 1124.1,556.1 1120.9,557.8 1119.5,560.6 1117.5,562.9 1115.1,561.9 1113.2,564.1 1110.4,565.9 1108.5,566.8 1105.2,568.6 1102.8,572.6 1101.5,572.2 1098.9,576 1096.9,574.2 1095.3,576.5 1093.5,575.3 1090.1,578.8 1088.7,580.6 1084.8,580.1 1082.7,581.4 1082.3,584.3 1080,584.8 1077.6,586.1 1074.1,588.3 1073.4,587 1070.4,590.1 1067.3,590.5 1065,591.2 1063,594.2 1061.6,594.4 1058,596.7 1057.2,598 1054.2,599.8 1053,602.6 1049.2,602.5 1047.7,605.6 1046,605.6 1042.7,609.7 1041,610.4 1038.5,614.9 1036.3,615.4 1034.1,616.5 1032.8,620.1 1029.5,618.6 1028.3,620.3 1025,625 1024.4,627.1 1023,629.6 1021.9,628.8 1019.9,631.4 1020.4,633.5 1018.6,633 1018.7,633" fill="#000" stroke="#000" stroke-width="0.8" stroke-linejoin="round"/>
<polyline points="1016.7,615.6 1017.1,616 1016.9,614 1017.6,613.6 1017.3,610.4 1018.2,610.5 1018.1,607 1018.8,606.2 1019.3,605.2 1019.9,603 1020.6,601.8 1021.1,601.8 1022.3,599.2 1022.8,598.4 1024,597.1 1024.7,595.6 1026.2,595.8 1026.7,594 1028.3,591.9 1029.5,591.1 1030.4,591 1031.6,589.5 1032.6,589.1 1033.8,588.3 1035,586.9 1035.8,586.2 1037.4,584.4 1038.9,584.4 1039.9,582.2 1041.2,581 1042.2,580.7 1043.4,579.7 1045,578.1 1046.4,577.4 1047.9,578 1049.2,575.8 1050.6,575.8 1052.3,574.6 1053.5,575.8 1054.4,575 1054.8,575" fill="none" stroke="#ff0000" stroke-width="3" stroke-linejoin="round"/>
<circle cx="1050" cy="590" r="1.8" fill="#ff0000"/>
<circle cx="1040" cy="600" r="1.8" fill="#ff0000"/>
<circle cx="1030" cy="612" r="1.8" fill="#ff0000"/>
<circle cx="1060" cy="585" r="1.8" fill="#ff0000"/>
<circle cx="1080" cy="570" r="1.8" fill="#ff0000"/>
<circle cx="1095" cy="560" r="1.8" fill="#ff0000"/>
<circle cx="1070" cy="578" r="1.8" fill="#ff0000"/>
<circle cx="1025" cy="618" r="1.8" fill="#ff0000"/>
<polyline points="1237,398.7 1237.6,396.2 1238,395.7 1238.1,392.8 1239.2,390.2 1239.9,388 1240.6,385.4 1241.1,384.3 1241.6,381 1242.5,379 1243,376.8 1243.8,375.9 1244.9,373.8 1245.4,371.5 1246.2,368.9 1247.3,366.3 1248.2,364.2 1248.8,362 1249.3,359.4 1250.4,355.4 1251.3,352.1 1252.2,349.5 1252.6,346.8 1253.4,342.9 1254.3,340 1255,337.8 1255.5,336.5 1256.1,333.7 1256.5,330.4 1256.9,328.4 1257.9,326.7 1258.4,325.2 1258.8,321.8 1259.7,319 1260,317 1260.7,314.4 1261.4,312.1 1262.3,308.9 1263,306.9 1263.2,305.3 1263.8,301.9 1264.2,300.9 1265.1,299.5 1265.2,297.3 1265.3,296.6 1266,294.8 1266.4,293.6 1266.9,292.4 1266.8,290.6 1267.1,287.8 1267.6,284.8 1267.7,283 1268,279.8 1268.9,276.2 1268.8,274 1269.5,271 1270.2,267.2 1270.6,264.2 1271.2,261.7 1272.5,257.9 1273,254.5 1274.4,250.4 1275.3,247.1 1275.7,243.5 1276.4,240.7 1277.1,239.5 1277.8,237.8 1278.2,235.3 1278.4,234.1 1278.9,232.8 1278.9,231.6 1279.7,229.5 1280,227.4 1280.1,225.8 1280.9,224.7 1281.3,221.3 1281.9,218.9 1281.9,217.5 1282.6,215.1 1283,213.9 1283.1,212.3" fill="none" stroke="#000" stroke-width="7.5" stroke-linejoin="round" stroke-dasharray="10 14" stroke-linecap="round"/>
<polyline points="1231.2,405.9 1231.1,404.6 1231.4,402.4 1231.3,401.8 1231.4,400.9 1231.7,397 1232,397.4 1232.6,393.6 1232.7,391.4 1233.9,390.8 1234.5,388.9 1234.5,386.2 1235.4,384.4 1236.5,382.1 1236.5,379.6 1237.9,377.4 1237.7,373.3 1238.2,370.6 1239.4,370.1 1239.7,367.8 1240.2,364.2 1240.1,361.5 1241.2,359.4 1241.2,357.6 1241.3,354.9 1242.1,353.7 1242.6,350.4 1243.6,348.6 1244,346.5 1243.7,343.7 1244.5,342.3 1244.9,339.8 1245.5,336.3 1246.3,333.7 1246.7,331.6 1246.4,329.3 1247.6,328.9 1247.3,325.4 1248.3,323.8 1248.4,320.8 1249.1,319.3 1249.4,317.2 1249.9,313.1 1250.8,311.4 1250.7,309.4 1251.2,307.4 1252.2,305.1 1252.6,301.8 1252.8,299.7 1253.6,297.1 1254,295.2 1253.6,294.2 1254.5,293.3 1254.3,292.5 1254.5,289.7 1255.1,288.2 1255.7,285.4 1255.8,281.5 1256.2,279.3 1257.2,275.4 1257.3,270.7 1258.5,267 1258.5,262.6 1259.9,257.9 1259.8,254 1260.9,251.3 1260.9,245.6 1261.6,241.9 1262.4,237.4 1262.9,233.3 1264.1,230.4 1263.9,226.8 1264.6,221.3 1266.2,218.2 1266.8,213.2 1267.1,209.6 1267.9,204.4 1269.1,199.9 1269.9,197.6 1271,192.8 1271.7,188.6 1272,184.9 1272.9,181.3 1274,176.6 1274.2,173.5 1274.7,168.2 1275.6,165.6 1276.2,160.9 1276.9,156.2 1277.5,150.5 1277.9,145.1 1278.6,138.4 1280,132.9 1280.7,125.8 1281.2,120.8 1282,116.2 1282.5,114" fill="none" stroke="#000" stroke-width="4" stroke-linejoin="round"/>
<text x="1111" y="90.1" font-size="49" stroke="#000" stroke-width="1.6" text-anchor="end">15</text>
<text x="1111" y="248.4" font-size="49" stroke="#000" stroke-width="1.6" text-anchor="end">10</text>
<text x="1111" y="409.3" font-size="49" stroke="#000" stroke-width="1.6" text-anchor="end">5</text>
<text x="960" y="636.8" font-size="49" stroke="#000" stroke-width="1.6" text-anchor="middle">-100</text>
<text x="1144.3" y="636.8" font-size="49" stroke="#000" stroke-width="1.6" text-anchor="middle">0</text>
<text x="1311" y="636.8" font-size="49" stroke="#000" stroke-width="1.6" text-anchor="middle">100</text>
<text x="985" y="535.5" font-size="49" stroke="#000" stroke-width="1.6">mV</text>
<text x="1147.5" y="75.5" font-size="50" stroke="#000" stroke-width="1.6">pA/pF</text>
<text x="883.5" y="55.8" font-size="73" stroke="#000" stroke-width="1.6">b</text>
<text x="1314.5" y="288.5" font-size="43.5" stroke="#000" stroke-width="1.6">NRK-52E</text>
<line x1="1321" y1="323.2" x2="1376" y2="323.2" stroke="#000" stroke-width="5.5" stroke-dasharray="12.6 12.6"/>
<text x="1383.6" y="335" font-size="43.5" stroke="#000" stroke-width="1.6">control</text>
<text x="1551.2" y="335" font-size="43.5" stroke="#000" stroke-width="1.6">148s</text>
<line x1="1321" y1="370.2" x2="1376" y2="370.2" stroke="#000" stroke-width="2.6"/>
<text x="1383.6" y="381.3" font-size="43.5" stroke="#000" stroke-width="1.6">control</text>
<text x="1551.2" y="381.3" font-size="43.5" stroke="#000" stroke-width="1.6">300s</text>
<line x1="1321" y1="416" x2="1376" y2="416" stroke="#ff0000" stroke-width="5.5" stroke-dasharray="12.6 12.6"/>
<text x="1383.6" y="428" font-size="43.5" stroke="#000" stroke-width="1.6">NS8593</text>
<text x="1551.2" y="428" font-size="43.5" stroke="#000" stroke-width="1.6">148s</text>
<line x1="1321" y1="463.3" x2="1376" y2="463.3" stroke="#ff0000" stroke-width="2.6"/>
<text x="1383.6" y="474.3" font-size="43.5" stroke="#000" stroke-width="1.6">NS8593</text>
<text x="1551.2" y="474.3" font-size="43.5" stroke="#000" stroke-width="1.6">300s</text>
<path d="M225.3,843.3 V1309.3 H791.3" fill="none" stroke="#000" stroke-width="3"/>
<line x1="203.1" y1="843.3" x2="225.3" y2="843.3" stroke="#000" stroke-width="3"/>
<line x1="203.1" y1="929.9" x2="225.3" y2="929.9" stroke="#000" stroke-width="3"/>
<line x1="203.1" y1="1018" x2="225.3" y2="1018" stroke="#000" stroke-width="3"/>
<line x1="203.1" y1="1106.2" x2="225.3" y2="1106.2" stroke="#000" stroke-width="3"/>
<line x1="203.1" y1="1193.4" x2="225.3" y2="1193.4" stroke="#000" stroke-width="3"/>
<line x1="203.1" y1="1280.1" x2="225.3" y2="1280.1" stroke="#000" stroke-width="3"/>
<line x1="244" y1="1309.3" x2="244" y2="1333.4" stroke="#000" stroke-width="3"/>
<line x1="516.5" y1="1309.3" x2="516.5" y2="1333.4" stroke="#000" stroke-width="3"/>
<line x1="790.8" y1="1309.3" x2="790.8" y2="1333.4" stroke="#000" stroke-width="3"/>
<line x1="380.2" y1="1309.3" x2="380.2" y2="1321.5" stroke="#000" stroke-width="3"/>
<line x1="653.6" y1="1309.3" x2="653.6" y2="1321.5" stroke="#000" stroke-width="3"/>
<rect x="511.7" y="866.5" width="276.8" height="9.4" fill="#000"/>
<polyline points="244,1283.8 262.2,1283.8 280.5,1283.8 298.7,1283.8 316.9,1283.8 335.1,1283.8 353.4,1283.8 371.6,1283.8 389.8,1283.8 408.1,1283.8 426.3,1283.8 444.5,1283.8 462.8,1283.8 481,1283.8 499.2,1283.8 517.5,1283.8 535.7,1283.8 553.9,1283.8 572.1,1283.8 590.4,1283.8 608.6,1283.8 626.8,1283.8 645.1,1283.8 663.3,1283.8 681.5,1283.8 699.8,1283.8 718,1283.8 736.2,1283.8 754.4,1283.8 772.7,1283.8 790.9,1283.8" fill="none" stroke="#000" stroke-width="2.5" stroke-linejoin="round"/>
<circle cx="244" cy="1283.8" r="9.2" fill="#fff" stroke="#000" stroke-width="2.7"/>
<circle cx="262.2" cy="1283.8" r="9.2" fill="#fff" stroke="#000" stroke-width="2.7"/>
<circle cx="280.5" cy="1283.8" r="9.2" fill="#fff" stroke="#000" stroke-width="2.7"/>
<circle cx="298.7" cy="1283.8" r="9.2" fill="#fff" stroke="#000" stroke-width="2.7"/>
<circle cx="316.9" cy="1283.8" r="9.2" fill="#fff" stroke="#000" stroke-width="2.7"/>
<circle cx="335.1" cy="1283.8" r="9.2" fill="#fff" stroke="#000" stroke-width="2.7"/>
<circle cx="353.4" cy="1283.8" r="9.2" fill="#fff" stroke="#000" stroke-width="2.7"/>
<circle cx="371.6" cy="1283.8" r="9.2" fill="#fff" stroke="#000" stroke-width="2.7"/>
<circle cx="389.8" cy="1283.8" r="9.2" fill="#fff" stroke="#000" stroke-width="2.7"/>
<circle cx="408.1" cy="1283.8" r="9.2" fill="#fff" stroke="#000" stroke-width="2.7"/>
<circle cx="426.3" cy="1283.8" r="9.2" fill="#fff" stroke="#000" stroke-width="2.7"/>
<circle cx="444.5" cy="1283.8" r="9.2" fill="#fff" stroke="#000" stroke-width="2.7"/>
<circle cx="462.8" cy="1283.8" r="9.2" fill="#fff" stroke="#000" stroke-width="2.7"/>
<circle cx="481" cy="1283.8" r="9.2" fill="#fff" stroke="#000" stroke-width="2.7"/>
<circle cx="499.2" cy="1283.8" r="9.2" fill="#fff" stroke="#000" stroke-width="2.7"/>
<circle cx="517.5" cy="1283.8" r="9.2" fill="#fff" stroke="#000" stroke-width="2.7"/>
<circle cx="535.7" cy="1283.8" r="9.2" fill="#fff" stroke="#000" stroke-width="2.7"/>
<circle cx="553.9" cy="1283.8" r="9.2" fill="#fff" stroke="#000" stroke-width="2.7"/>
<circle cx="572.1" cy="1283.8" r="9.2" fill="#fff" stroke="#000" stroke-width="2.7"/>
<circle cx="590.4" cy="1283.8" r="9.2" fill="#fff" stroke="#000" stroke-width="2.7"/>
<circle cx="608.6" cy="1283.8" r="9.2" fill="#fff" stroke="#000" stroke-width="2.7"/>
<circle cx="626.8" cy="1283.8" r="9.2" fill="#fff" stroke="#000" stroke-width="2.7"/>
<circle cx="645.1" cy="1283.8" r="9.2" fill="#fff" stroke="#000" stroke-width="2.7"/>
<circle cx="663.3" cy="1283.8" r="9.2" fill="#fff" stroke="#000" stroke-width="2.7"/>
<circle cx="681.5" cy="1283.8" r="9.2" fill="#fff" stroke="#000" stroke-width="2.7"/>
<circle cx="699.8" cy="1283.8" r="9.2" fill="#fff" stroke="#000" stroke-width="2.7"/>
<circle cx="718" cy="1283.8" r="9.2" fill="#fff" stroke="#000" stroke-width="2.7"/>
<circle cx="736.2" cy="1283.8" r="9.2" fill="#fff" stroke="#000" stroke-width="2.7"/>
<circle cx="754.4" cy="1283.8" r="9.2" fill="#fff" stroke="#000" stroke-width="2.7"/>
<circle cx="772.7" cy="1283.8" r="9.2" fill="#fff" stroke="#000" stroke-width="2.7"/>
<circle cx="790.9" cy="1283.8" r="9.2" fill="#fff" stroke="#000" stroke-width="2.7"/>
<polyline points="244,1290.4 262.2,1290 280.5,1290.4 298.7,1290.4 316.9,1290 335.1,1292.5 353.4,1292 371.6,1288.5 389.8,1291 408.1,1290.5 426.3,1291 444.5,1290 462.8,1290.5 481,1290 499.2,1289.5 517.5,1290.5 535.7,1289 553.9,1290.5 572.1,1289 590.4,1290 608.6,1289.5 626.8,1290 645.1,1289 663.3,1289 681.5,1289 699.8,1289 718,1289 736.2,1289 754.4,1289 772.7,1289 790.9,1289" fill="none" stroke="#000" stroke-width="2.5" stroke-linejoin="round"/>
<circle cx="244" cy="1290.4" r="8.4" fill="#000"/>
<circle cx="262.2" cy="1290" r="8.4" fill="#000"/>
<circle cx="280.5" cy="1290.4" r="8.4" fill="#000"/>
<circle cx="298.7" cy="1290.4" r="8.4" fill="#000"/>
<circle cx="316.9" cy="1290" r="8.4" fill="#000"/>
<circle cx="335.1" cy="1292.5" r="8.4" fill="#000"/>
<circle cx="353.4" cy="1292" r="8.4" fill="#000"/>
<circle cx="371.6" cy="1288.5" r="8.4" fill="#000"/>
<circle cx="389.8" cy="1291" r="8.4" fill="#000"/>
<circle cx="408.1" cy="1290.5" r="8.4" fill="#000"/>
<circle cx="426.3" cy="1291" r="8.4" fill="#000"/>
<circle cx="444.5" cy="1290" r="8.4" fill="#000"/>
<circle cx="462.8" cy="1290.5" r="8.4" fill="#000"/>
<circle cx="481" cy="1290" r="8.4" fill="#000"/>
<circle cx="499.2" cy="1289.5" r="8.4" fill="#000"/>
<circle cx="517.5" cy="1290.5" r="8.4" fill="#000"/>
<circle cx="535.7" cy="1289" r="8.4" fill="#000"/>
<circle cx="553.9" cy="1290.5" r="8.4" fill="#000"/>
<circle cx="572.1" cy="1289" r="8.4" fill="#000"/>
<circle cx="590.4" cy="1290" r="8.4" fill="#000"/>
<circle cx="608.6" cy="1289.5" r="8.4" fill="#000"/>
<circle cx="626.8" cy="1290" r="8.4" fill="#000"/>
<circle cx="645.1" cy="1289" r="8.4" fill="#000"/>
<circle cx="663.3" cy="1289" r="8.4" fill="#000"/>
<circle cx="681.5" cy="1289" r="8.4" fill="#000"/>
<circle cx="699.8" cy="1289" r="8.4" fill="#000"/>
<circle cx="718" cy="1289" r="8.4" fill="#000"/>
<circle cx="736.2" cy="1289" r="8.4" fill="#000"/>
<circle cx="754.4" cy="1289" r="8.4" fill="#000"/>
<circle cx="772.7" cy="1289" r="8.4" fill="#000"/>
<circle cx="790.9" cy="1289" r="8.4" fill="#000"/>
<path d="M335.1,1248.8 V1238 M324.8,1238 H345.4" stroke="#000" stroke-width="3" fill="none"/>
<path d="M353.4,1242.8 V1230 M343.1,1230 H363.7" stroke="#000" stroke-width="3" fill="none"/>
<path d="M371.6,1236.8 V1220.5 M361.3,1220.5 H381.9" stroke="#000" stroke-width="3" fill="none"/>
<path d="M389.8,1224 V1205.1 M379.5,1205.1 H400.1" stroke="#000" stroke-width="3" fill="none"/>
<path d="M408.1,1204.3 V1183.7 M397.8,1183.7 H418.4" stroke="#000" stroke-width="3" fill="none"/>
<path d="M426.3,1186.7 V1162.3 M416,1162.3 H436.6" stroke="#000" stroke-width="3" fill="none"/>
<path d="M444.5,1168.2 V1140 M434.2,1140 H454.8" stroke="#000" stroke-width="3" fill="none"/>
<path d="M462.8,1143.4 V1111.7 M452.5,1111.7 H473.1" stroke="#000" stroke-width="3" fill="none"/>
<path d="M481,1112.5 V1075.7 M470.7,1075.7 H491.3" stroke="#000" stroke-width="3" fill="none"/>
<path d="M499.2,1085.1 V1041.4 M488.9,1041.4 H509.5" stroke="#000" stroke-width="3" fill="none"/>
<path d="M517.5,1062.8 V1020 M507.2,1020 H527.8" stroke="#000" stroke-width="3" fill="none"/>
<path d="M535.7,1047.4 V1004.6 M525.4,1004.6 H546" stroke="#000" stroke-width="3" fill="none"/>
<path d="M553.9,1026 V979.7 M543.6,979.7 H564.2" stroke="#000" stroke-width="3" fill="none"/>
<path d="M572.1,1017.5 V970.3 M561.8,970.3 H582.4" stroke="#000" stroke-width="3" fill="none"/>
<path d="M590.4,998.3 V948.5 M580.1,948.5 H600.7" stroke="#000" stroke-width="3" fill="none"/>
<path d="M608.6,992.2 V939.7 M598.3,939.7 H618.9" stroke="#000" stroke-width="3" fill="none"/>
<path d="M626.8,973.3 V920.8 M616.5,920.8 H637.1" stroke="#000" stroke-width="3" fill="none"/>
<path d="M645.1,967.4 V911.3 M634.8,911.3 H655.4" stroke="#000" stroke-width="3" fill="none"/>
<path d="M663.3,967.4 V911.3 M653,911.3 H673.6" stroke="#000" stroke-width="3" fill="none"/>
<path d="M681.5,958 V902.6 M671.2,902.6 H691.8" stroke="#000" stroke-width="3" fill="none"/>
<path d="M699.8,955 V898.9 M689.5,898.9 H710" stroke="#000" stroke-width="3" fill="none"/>
<path d="M718,955 V896 M707.7,896 H728.3" stroke="#000" stroke-width="3" fill="none"/>
<path d="M736.2,958 V898.9 M725.9,898.9 H746.5" stroke="#000" stroke-width="3" fill="none"/>
<path d="M754.4,963.8 V905.5 M744.1,905.5 H764.7" stroke="#000" stroke-width="3" fill="none"/>
<path d="M772.7,974 V915 M762.4,915 H783" stroke="#000" stroke-width="3" fill="none"/>
<path d="M790.9,970.3 V908.4 M780.6,908.4 H801.2" stroke="#000" stroke-width="3" fill="none"/>
<polyline points="244,1260.8 262.2,1258.2 280.5,1257.4 298.7,1257.4 316.9,1257.4 335.1,1248.8 353.4,1242.8 371.6,1236.8 389.8,1224 408.1,1204.3 426.3,1186.7 444.5,1168.2 462.8,1143.4 481,1112.5 499.2,1085.1 517.5,1062.8 535.7,1047.4 553.9,1026 572.1,1017.5 590.4,998.3 608.6,992.2 626.8,973.3 645.1,967.4 663.3,967.4 681.5,958 699.8,955 718,955 736.2,958 754.4,963.8 772.7,974 790.9,970.3" fill="none" stroke="#000" stroke-width="2.5" stroke-linejoin="round"/>
<circle cx="244" cy="1260.8" r="9.2" fill="#fff" stroke="#000" stroke-width="2.7"/>
<circle cx="262.2" cy="1258.2" r="9.2" fill="#fff" stroke="#000" stroke-width="2.7"/>
<circle cx="280.5" cy="1257.4" r="9.2" fill="#fff" stroke="#000" stroke-width="2.7"/>
<circle cx="298.7" cy="1257.4" r="9.2" fill="#fff" stroke="#000" stroke-width="2.7"/>
<circle cx="316.9" cy="1257.4" r="9.2" fill="#fff" stroke="#000" stroke-width="2.7"/>
<circle cx="335.1" cy="1248.8" r="9.2" fill="#fff" stroke="#000" stroke-width="2.7"/>
<circle cx="353.4" cy="1242.8" r="9.2" fill="#fff" stroke="#000" stroke-width="2.7"/>
<circle cx="371.6" cy="1236.8" r="9.2" fill="#fff" stroke="#000" stroke-width="2.7"/>
<circle cx="389.8" cy="1224" r="9.2" fill="#fff" stroke="#000" stroke-width="2.7"/>
<circle cx="408.1" cy="1204.3" r="9.2" fill="#fff" stroke="#000" stroke-width="2.7"/>
<circle cx="426.3" cy="1186.7" r="9.2" fill="#fff" stroke="#000" stroke-width="2.7"/>
<circle cx="444.5" cy="1168.2" r="9.2" fill="#fff" stroke="#000" stroke-width="2.7"/>
<circle cx="462.8" cy="1143.4" r="9.2" fill="#fff" stroke="#000" stroke-width="2.7"/>
<circle cx="481" cy="1112.5" r="9.2" fill="#fff" stroke="#000" stroke-width="2.7"/>
<circle cx="499.2" cy="1085.1" r="9.2" fill="#fff" stroke="#000" stroke-width="2.7"/>
<circle cx="517.5" cy="1062.8" r="9.2" fill="#fff" stroke="#000" stroke-width="2.7"/>
<circle cx="535.7" cy="1047.4" r="9.2" fill="#fff" stroke="#000" stroke-width="2.7"/>
<circle cx="553.9" cy="1026" r="9.2" fill="#fff" stroke="#000" stroke-width="2.7"/>
<circle cx="572.1" cy="1017.5" r="9.2" fill="#fff" stroke="#000" stroke-width="2.7"/>
<circle cx="590.4" cy="998.3" r="9.2" fill="#fff" stroke="#000" stroke-width="2.7"/>
<circle cx="608.6" cy="992.2" r="9.2" fill="#fff" stroke="#000" stroke-width="2.7"/>
<circle cx="626.8" cy="973.3" r="9.2" fill="#fff" stroke="#000" stroke-width="2.7"/>
<circle cx="645.1" cy="967.4" r="9.2" fill="#fff" stroke="#000" stroke-width="2.7"/>
<circle cx="663.3" cy="967.4" r="9.2" fill="#fff" stroke="#000" stroke-width="2.7"/>
<circle cx="681.5" cy="958" r="9.2" fill="#fff" stroke="#000" stroke-width="2.7"/>
<circle cx="699.8" cy="955" r="9.2" fill="#fff" stroke="#000" stroke-width="2.7"/>
<circle cx="718" cy="955" r="9.2" fill="#fff" stroke="#000" stroke-width="2.7"/>
<circle cx="736.2" cy="958" r="9.2" fill="#fff" stroke="#000" stroke-width="2.7"/>
<circle cx="754.4" cy="963.8" r="9.2" fill="#fff" stroke="#000" stroke-width="2.7"/>
<circle cx="772.7" cy="974" r="9.2" fill="#fff" stroke="#000" stroke-width="2.7"/>
<circle cx="790.9" cy="970.3" r="9.2" fill="#fff" stroke="#000" stroke-width="2.7"/>
<path d="M280.5,1232.5 V1220.5 M270.2,1220.5 H290.8" stroke="#000" stroke-width="3" fill="none"/>
<path d="M298.7,1226.5 V1214.5 M288.4,1214.5 H309" stroke="#000" stroke-width="3" fill="none"/>
<path d="M316.9,1217.1 V1199.1 M306.6,1199.1 H327.2" stroke="#000" stroke-width="3" fill="none"/>
<path d="M335.1,1208.5 V1189.7 M324.8,1189.7 H345.4" stroke="#000" stroke-width="3" fill="none"/>
<path d="M353.4,1199.1 V1177.7 M343.1,1177.7 H363.7" stroke="#000" stroke-width="3" fill="none"/>
<path d="M371.6,1186.2 V1164.8 M361.3,1164.8 H381.9" stroke="#000" stroke-width="3" fill="none"/>
<path d="M389.8,1170.8 V1149.4 M379.5,1149.4 H400.1" stroke="#000" stroke-width="3" fill="none"/>
<path d="M408.1,1149.4 V1124.5 M397.8,1124.5 H418.4" stroke="#000" stroke-width="3" fill="none"/>
<path d="M426.3,1124.9 V1100 M416,1100 H436.6" stroke="#000" stroke-width="3" fill="none"/>
<path d="M444.5,1103.1 V1078.3 M434.2,1078.3 H454.8" stroke="#000" stroke-width="3" fill="none"/>
<path d="M462.8,1074.8 V1050.8 M452.5,1050.8 H473.1" stroke="#000" stroke-width="3" fill="none"/>
<path d="M481,1044 V1016.6 M470.7,1016.6 H491.3" stroke="#000" stroke-width="3" fill="none"/>
<path d="M499.2,1016.6 V989.1 M488.9,989.1 H509.5" stroke="#000" stroke-width="3" fill="none"/>
<path d="M517.5,1003.7 V977.1 M507.2,977.1 H527.8" stroke="#000" stroke-width="3" fill="none"/>
<path d="M535.7,1109.1 V1091.1 M525.4,1091.1 H546" stroke="#000" stroke-width="3" fill="none"/>
<path d="M553.9,1158.8 V1143.4 M543.6,1143.4 H564.2" stroke="#000" stroke-width="3" fill="none"/>
<path d="M572.1,1190 V1177.7 M561.8,1177.7 H582.4" stroke="#000" stroke-width="3" fill="none"/>
<path d="M590.4,1204 V1195.5 M580.1,1195.5 H600.7" stroke="#000" stroke-width="3" fill="none"/>
<path d="M608.6,1220.6 V1211.5 M598.3,1211.5 H618.9" stroke="#000" stroke-width="3" fill="none"/>
<path d="M626.8,1226.7 V1217.5 M616.5,1217.5 H637.1" stroke="#000" stroke-width="3" fill="none"/>
<polyline points="244,1244.5 262.2,1238.5 280.5,1232.5 298.7,1226.5 316.9,1217.1 335.1,1208.5 353.4,1199.1 371.6,1186.2 389.8,1170.8 408.1,1149.4 426.3,1124.9 444.5,1103.1 462.8,1074.8 481,1044 499.2,1016.6 517.5,1003.7 535.7,1109.1 553.9,1158.8 572.1,1190 590.4,1204 608.6,1220.6 626.8,1226.7 645.1,1232.7 663.3,1235.8 681.5,1238.8 699.8,1241.8 718,1244.9 736.2,1244.9 754.4,1248.7 772.7,1247.9 790.9,1250.9" fill="none" stroke="#000" stroke-width="2.5" stroke-linejoin="round"/>
<circle cx="244" cy="1244.5" r="8.4" fill="#000"/>
<circle cx="262.2" cy="1238.5" r="8.4" fill="#000"/>
<circle cx="280.5" cy="1232.5" r="8.4" fill="#000"/>
<circle cx="298.7" cy="1226.5" r="8.4" fill="#000"/>
<circle cx="316.9" cy="1217.1" r="8.4" fill="#000"/>
<circle cx="335.1" cy="1208.5" r="8.4" fill="#000"/>
<circle cx="353.4" cy="1199.1" r="8.4" fill="#000"/>
<circle cx="371.6" cy="1186.2" r="8.4" fill="#000"/>
<circle cx="389.8" cy="1170.8" r="8.4" fill="#000"/>
<circle cx="408.1" cy="1149.4" r="8.4" fill="#000"/>
<circle cx="426.3" cy="1124.9" r="8.4" fill="#000"/>
<circle cx="444.5" cy="1103.1" r="8.4" fill="#000"/>
<circle cx="462.8" cy="1074.8" r="8.4" fill="#000"/>
<circle cx="481" cy="1044" r="8.4" fill="#000"/>
<circle cx="499.2" cy="1016.6" r="8.4" fill="#000"/>
<circle cx="517.5" cy="1003.7" r="8.4" fill="#000"/>
<circle cx="535.7" cy="1109.1" r="8.4" fill="#000"/>
<circle cx="553.9" cy="1158.8" r="8.4" fill="#000"/>
<circle cx="572.1" cy="1190" r="8.4" fill="#000"/>
<circle cx="590.4" cy="1204" r="8.4" fill="#000"/>
<circle cx="608.6" cy="1220.6" r="8.4" fill="#000"/>
<circle cx="626.8" cy="1226.7" r="8.4" fill="#000"/>
<circle cx="645.1" cy="1232.7" r="8.4" fill="#000"/>
<circle cx="663.3" cy="1235.8" r="8.4" fill="#000"/>
<circle cx="681.5" cy="1238.8" r="8.4" fill="#000"/>
<circle cx="699.8" cy="1241.8" r="8.4" fill="#000"/>
<circle cx="718" cy="1244.9" r="8.4" fill="#000"/>
<circle cx="736.2" cy="1244.9" r="8.4" fill="#000"/>
<circle cx="754.4" cy="1248.7" r="8.4" fill="#000"/>
<circle cx="772.7" cy="1247.9" r="8.4" fill="#000"/>
<circle cx="790.9" cy="1250.9" r="8.4" fill="#000"/>
<text x="191" y="857.8" font-size="48" stroke="#000" stroke-width="2.1" text-anchor="end">25</text>
<text x="191" y="944.4" font-size="48" stroke="#000" stroke-width="2.1" text-anchor="end">20</text>
<text x="191" y="1032.5" font-size="48" stroke="#000" stroke-width="2.1" text-anchor="end">15</text>
<text x="191" y="1120.7" font-size="48" stroke="#000" stroke-width="2.1" text-anchor="end">10</text>
<text x="191" y="1207.9" font-size="48" stroke="#000" stroke-width="2.1" text-anchor="end">5</text>
<text x="191" y="1294.6" font-size="48" stroke="#000" stroke-width="2.1" text-anchor="end">0</text>
<text x="244" y="1384" font-size="49" stroke="#000" stroke-width="1.6" text-anchor="middle">0</text>
<text x="516.5" y="1384" font-size="49" stroke="#000" stroke-width="1.6" text-anchor="middle">150</text>
<text x="790.8" y="1384" font-size="49" stroke="#000" stroke-width="1.6" text-anchor="middle">300</text>
<text x="517" y="1442" font-size="48" stroke="#000" stroke-width="1.6" text-anchor="middle">time (s)</text>
<text transform="translate(92.5,1065) rotate(-90)" font-size="49" text-anchor="middle" stroke="#000" stroke-width="0.8">current (pA/pF)</text>
<text x="236" y="842" font-size="43.5" stroke="#000" stroke-width="1.6">NRK-49F</text>
<line x1="248.6" y1="880" x2="303" y2="880" stroke="#000" stroke-width="3"/>
<circle cx="276.9" cy="879.3" r="9.5" fill="#fff" stroke="#000" stroke-width="2.2"/>
<text x="310.5" y="890.5" font-size="43.5" stroke="#000" stroke-width="1.6">control</text>
<line x1="248.6" y1="926.6" x2="265" y2="926.6" stroke="#000" stroke-width="3"/>
<line x1="289" y1="926.6" x2="303" y2="926.6" stroke="#000" stroke-width="3"/>
<circle cx="276.9" cy="926.6" r="7.8" fill="#000"/>
<text x="310.5" y="937.5" font-size="43.5" stroke="#000" stroke-width="1.6">NS8593</text>
<text transform="translate(2.5,830.5) scale(0.89,1)" font-size="79" font-weight="bold">c</text>
<line x1="1143" y1="843.4" x2="1143" y2="1368.6" stroke="#000" stroke-width="3"/>
<line x1="975.8" y1="1368.6" x2="1310.2" y2="1368.6" stroke="#000" stroke-width="3"/>
<line x1="1121" y1="846.2" x2="1143" y2="846.2" stroke="#000" stroke-width="3"/>
<line x1="1121" y1="1019.3" x2="1143" y2="1019.3" stroke="#000" stroke-width="3"/>
<line x1="1121" y1="1192.5" x2="1143" y2="1192.5" stroke="#000" stroke-width="3"/>
<line x1="975.8" y1="1368.6" x2="975.8" y2="1391.5" stroke="#000" stroke-width="3"/>
<line x1="1143" y1="1368.6" x2="1143" y2="1397" stroke="#000" stroke-width="3"/>
<line x1="1310.2" y1="1368.6" x2="1310.2" y2="1391.5" stroke="#000" stroke-width="3"/>
<line x1="1058.8" y1="1368.6" x2="1058.8" y2="1378" stroke="#000" stroke-width="3"/>
<line x1="1226.4" y1="1368.6" x2="1226.4" y2="1378" stroke="#000" stroke-width="3"/>
<polyline points="1012,1402.6 1013,1401.2 1012.6,1402.7 1012.1,1400.5 1012.4,1400.6 1013.6,1398.8 1012.6,1398.1 1013.4,1397.8 1013.5,1396.6 1014.2,1395.4 1013.9,1396.1 1013.9,1394.4 1014.5,1393.9 1014.4,1393.9 1015.1,1389.8 1015.4,1390.3 1015.4,1389.6 1016.5,1389.9 1016.8,1387.6 1017.1,1388.6 1018.6,1387.1 1018.1,1387.4 1018.9,1384.6 1019,1386 1020.6,1384.9 1020.6,1384 1020.9,1384.9 1021.7,1383.1 1023,1383.2 1023.2,1380.8 1024.1,1379.7 1025.2,1380 1026.1,1379.2 1026.2,1378.7 1027.1,1378 1027.4,1379.6 1028.7,1377.5 1029.7,1377.9 1030.9,1378.2 1032.2,1376.8 1033.6,1378.3 1033.4,1377.9 1035.8,1377.4 1035.9,1377.3 1037.8,1374.2 1038.1,1377.3 1040.3,1374.6 1040.7,1374 1042.2,1376.1 1043.6,1373.6 1045.6,1375.8 1045.7,1375.9 1047.6,1375.4 1048.8,1375.6 1050.2,1375.3 1050.6,1374.6 1052.2,1374.7 1053.3,1375.1 1054.7,1372.7 1055.4,1372.1 1057,1371.7 1058.2,1371.9 1059.4,1373 1060.7,1374.2 1061.1,1374 1063,1372.9 1064.4,1373.8 1065.2,1372.2 1067.3,1370.8 1068,1372.7 1068.3,1372.5 1070.5,1373.5 1071.1,1373.6 1072.6,1371.6 1074.3,1369.9 1075.3,1371.9 1075.9,1372.6 1077.1,1371 1078.6,1372 1079.3,1370.6 1080.9,1370.9 1082.7,1369.8 1084,1370.1 1084.9,1369.5 1086.2,1371.8 1087.7,1371 1088.6,1369.2 1089.9,1370 1091.6,1370.6 1092.1,1370.2 1094.6,1369.5 1094.6,1368.5 1095.8,1367.9 1098.3,1369.3 1099.1,1369.8 1100.7,1369.1 1101.4,1369 1102.7,1368.8 1103.9,1367.3 1105,1368.1 1106.4,1366.7 1106.7,1366.3 1108.8,1369.4 1109.8,1367.3 1111.3,1368.7 1112.1,1366.7 1112.9,1367.2 1114.1,1367.1 1115.8,1368.8 1116.2,1367.4 1117.3,1365.6 1119.6,1367.2 1121,1366.6 1120.9,1366.2 1122.9,1368.1 1124.6,1366.3 1125,1364.8 1126.5,1365.1 1127,1364.2 1128,1366.5 1129.5,1367.4 1130.7,1366.9 1132.2,1363.6 1134.6,1364.2 1136.1,1363.8 1136.6,1365.8 1139,1365.9 1140.4,1362.9 1141.4,1365 1142.2,1365.7 1142.6,1365.7" fill="none" stroke="#ff0000" stroke-width="5" stroke-linejoin="round"/>
<polyline points="1012.8,1396.7 1011.9,1398.6 1013.1,1396 1012.5,1397.6 1012.4,1397.3 1013,1393.6 1013,1394.6 1013.2,1394.1 1013,1393.7 1013.5,1392.3 1014.2,1390.7 1014.1,1391.3 1015.2,1390.5 1015,1388 1014.7,1389.6 1016,1388.3 1015.9,1386.8 1017.3,1386.8 1017.2,1384.2 1017.4,1385.6 1017.8,1384.2 1018.7,1384.3 1019.5,1381.4 1018.8,1380.7 1020,1381.2 1021.1,1381.7 1020.6,1380.9 1022.4,1380.4 1022.7,1377.7 1023.8,1379.1 1024.3,1379 1024.5,1375.5 1025.6,1377.6 1026,1377 1027.9,1374.7 1028.3,1375.9 1029,1373.8 1029.6,1375.4 1031.4,1374 1031.4,1374.9 1033.4,1372.5 1034.2,1374.6 1035.8,1373 1036.3,1373 1037.1,1371.3 1038.4,1372.9 1039.9,1372.2 1041.2,1371.8 1042,1369.9 1044.5,1370.9 1044.4,1371.7 1046.6,1369.8 1047.5,1370.3 1048.6,1369 1049.1,1372.3 1051.5,1370.4 1052.3,1369.4 1053.8,1369.9 1055.2,1371 1056.3,1371.6 1056.6,1368.1 1057.8,1368.5 1058.8,1367.9 1060.7,1370.8 1061.7,1370.9 1063.6,1367.6 1064.3,1368.7 1064.9,1370.6 1066.3,1369.1 1068,1370.4 1069.2,1368.2 1070.1,1367.2 1072.1,1370.1 1072.2,1366.5 1073.4,1367.5 1075.5,1369.4 1076.6,1366.1 1077.7,1368.4 1078.7,1369.2 1079.1,1366.1 1081.4,1368.8 1082.5,1366.3 1083.7,1367.8 1084.3,1366.1 1085.8,1365.3 1087.5,1365.3 1088.4,1365.1 1090.4,1364.5 1091.8,1365 1092.1,1367.5 1093.6,1367.4 1095.8,1367.1 1095.9,1365.4 1097.1,1367 1099.4,1365.8 1100,1364.6 1101.7,1365 1102.6,1363.7 1103.2,1363.2 1105.1,1364.9 1105.5,1365.9 1106.9,1364.2 1107.9,1363.6 1110.1,1363.7 1110.3,1364.1 1111.7,1365.5 1112.6,1365.7 1113.8,1365.3 1115.8,1362.7 1116.8,1362.8 1117.7,1362.4 1119,1365.1 1121.1,1364.8 1121,1362.4 1123.3,1361.4 1124.3,1362.1 1125.8,1361 1126.8,1362.1 1127,1360.7 1129.2,1362.4 1129.5,1362 1131.9,1361 1132.8,1360.6 1133.8,1362.6 1136.1,1360.4 1136.6,1359.8 1138.8,1361.1 1139.7,1359.8 1141.4,1361.5 1142.7,1360.9 1142.6,1358.9" fill="none" stroke="#000" stroke-width="6" stroke-linejoin="round"/>
<polyline points="1012.8,1399.7 1012.9,1398 1013.1,1398.4 1013.3,1399.6 1012.9,1395.8 1013.6,1396.6 1013.7,1395 1012.9,1396.2 1013.3,1392.9 1013.6,1393.6 1013.3,1392.6 1014.2,1391.8 1014.1,1391.7 1015.4,1391.5 1015.1,1390.2 1015.5,1389.6 1015.5,1389.2 1017.2,1387.1 1017.1,1386.5 1017.6,1384 1018.7,1384 1018,1382.9 1018.7,1384.8 1018.9,1381.6 1020.4,1381.3 1020,1382.1 1021.4,1381.3 1022.2,1379.2 1023.1,1380.8 1022.6,1378.2 1024,1379 1024.4,1377.2 1025.4,1376.7 1026.5,1378.9 1026.7,1377.4 1028.5,1375.6 1029.5,1378 1029.8,1375.7 1031.4,1375.8 1031.8,1376.9 1033.4,1374.4 1033.7,1374.1 1035.1,1376.1 1036.8,1375.6 1038,1375.2 1038.2,1373.8 1040.7,1375 1040.9,1373 1042.7,1372.6 1043.8,1371.3 1044.9,1372.7 1045.5,1371.2 1048.1,1373.4 1049.2,1372.7 1050.2,1373.4 1051.6,1370.3 1052.4,1371 1053.7,1370.9 1054.7,1373.1 1056,1370.5 1057,1371.1 1058.8,1370.4 1059.1,1371.6 1060.1,1371.3 1062.5,1370.9 1062.7,1370.6 1064.2,1369.3 1064.9,1369.1 1066.3,1370 1067.5,1369.3 1068.4,1370.3 1070.7,1370.4 1071.5,1370.4 1072.1,1370.5 1073.7,1369.7 1075.1,1369.3 1075.9,1368.3 1076.9,1369.2 1078.4,1369.3 1079.1,1368.3 1081.5,1367.8 1082.3,1368.5 1083.2,1370.2 1084.6,1369.3 1085.7,1366.6 1088,1367.8 1088.2,1367.4 1090.1,1368.6 1090.9,1366.6 1093.4,1368.3 1093.5,1366.7 1095,1367.8 1096.6,1368.3 1098.1,1367 1099.2,1367.7 1100.4,1366.6 1101.7,1367.3 1103,1365.1 1104.1,1364.5 1105.2,1366.5 1106,1367.8 1107.3,1365.7 1108.8,1367.2 1109.8,1365.3 1110.7,1365.5 1112.3,1364.8 1113,1365.6 1114.2,1364.7 1116,1366.5 1116.8,1364.9 1117.5,1364.3 1118.7,1365.2 1120.5,1363.3 1122.2,1364 1123.2,1365.7 1124.6,1363.3 1125,1365.7 1125.6,1362.5 1127.6,1364 1129.4,1364.8 1130.1,1365.5 1131.3,1363.6 1133,1363 1134,1363.5 1135.5,1364.6 1137.5,1362.9 1138.1,1362.1 1139.9,1362.6 1141.3,1363.6 1142.9,1362.1 1142.9,1362.4" fill="none" stroke="#000" stroke-width="5" stroke-linejoin="round"/>
<polyline points="1143.6,1361.5 1143.4,1362.9 1143.3,1361.5 1144.7,1363 1144.6,1360.9 1145.6,1362.6 1146.1,1363.5 1147,1361.8 1147,1361.4 1148.4,1362 1149.2,1360.9 1151.2,1362.1 1152.5,1363.1 1154.6,1360.2 1156.3,1362.2 1158.2,1361.8 1159.9,1360.4 1163.1,1361 1165,1359.6 1166.8,1360.4 1168.5,1360.4 1170.8,1361.2 1172.7,1359.1 1174.1,1357.9 1176.8,1357.4 1177.9,1357.2 1180.4,1358.7 1182.4,1358.2 1183.6,1355.4 1186.4,1356 1188.3,1355.7 1189.5,1355 1191.3,1356.6 1193.8,1354.5 1195.6,1354.3 1197,1355.4 1199.6,1355.3 1201.3,1353.9 1203,1351.8 1205.7,1353.8 1206.9,1353.5 1209.4,1351.3 1211.1,1352.8 1212.8,1352.4 1214.5,1350.3 1217,1349.3 1218.4,1350.8 1220.5,1350.1 1222.2,1347.7 1224.2,1347.2 1226.9,1346.9 1228.3,1345.7 1230.2,1345.8 1231.9,1344.1 1233.5,1345.6 1235.7,1343.1 1237.4,1342.4 1239.4,1340.8 1241.9,1340.9 1243.2,1341.2 1245,1339.1 1247.8,1337.9 1249.3,1339.2 1251.7,1336.3 1253.1,1337.2 1255.1,1337.1 1256.8,1336.3 1259.1,1333.3 1260.9,1332.3 1263.1,1332 1265.2,1332.4 1266.4,1330.8 1268.7,1330.2 1271,1329.4 1272.6,1330.2 1274.3,1330.5 1276.3,1329.8 1278.2,1328.5 1279.5,1327.5 1280.6,1329.6 1281.8,1328.8" fill="none" stroke="#ff0000" stroke-width="5" stroke-linejoin="round"/>
<polyline points="1142.8,1361.1 1143.9,1361.1 1145.1,1360.7 1146.5,1361.1 1148.1,1361.9 1149.9,1361.7 1151.9,1362.3 1153.6,1362.4 1154.8,1361.7 1156.2,1362.2 1158,1361.9 1159.3,1362.4 1160.9,1361.9 1162.4,1361.9 1163.8,1361.3 1165.1,1361.5 1167.1,1360.3 1168.6,1357.9 1170.5,1356.2 1172.5,1354.2 1174.4,1351.6 1176.7,1348.9 1178.8,1346.7 1180.7,1343.8 1182.6,1341.9 1184.5,1338.9 1186.6,1337.6 1188.3,1334.5 1190.6,1333.1 1192.1,1330.4 1194,1328.9 1195.9,1326.7 1197.9,1323.4 1199.6,1321.4 1201.3,1319.5 1202.6,1316.2 1204.5,1314.1 1206.1,1311.9 1207.5,1309.5 1209,1306.3 1210.3,1303.8 1212.1,1300.7 1213.9,1297.2 1215.5,1293.9 1217.1,1291.6 1218.5,1288.1 1220.4,1284.9 1221.8,1281.2 1223,1278.1 1224.6,1274.8 1225.9,1271.5 1227.4,1269 1228.4,1265.3 1229.8,1262.4 1231.2,1259.1 1232.1,1256.5 1233.1,1253 1234.3,1250.1 1235.4,1246.9 1236.3,1243.6 1237.4,1240.1 1238.4,1237.4 1239,1233.6 1240.1,1230.3 1240.8,1227.2 1241.7,1224.6 1242.6,1220.7 1243.4,1218 1244.2,1214.5 1244.8,1211.1 1246,1208.8 1246.3,1205.6 1247.5,1202.3 1247.9,1199 1248.9,1195.5 1249.7,1192.1 1250.7,1189.7 1251.4,1186.9 1252.2,1182.9 1252.7,1179.5 1253.4,1177.1 1254.4,1173.4 1254.8,1170.6 1255.7,1167.8 1256,1164.4 1256.9,1161.2 1257.3,1157.4 1258.2,1154.4 1258.6,1151.5 1259.4,1148.6 1260.1,1144.5 1261.1,1142.1 1262,1139 1262.9,1136.1 1263.5,1132.4 1264.1,1129 1265,1125.6 1265.8,1122.5 1266.4,1120.3 1266.9,1116 1267.7,1113 1268.4,1109.6 1269.1,1107.5 1269.7,1103.8 1270,1100.9 1270.6,1097.4 1271,1094.3 1271.6,1091.6 1272.2,1087.6 1272.3,1084.8 1272.9,1081.5 1273.2,1078.1 1273.8,1075.4 1274.7,1072.6 1275.3,1069.3 1276,1065.4 1276.6,1061.3 1277.2,1058.7 1277.6,1055.5 1278.6,1052.5 1279.1,1049.8 1279.5,1048.2 1280,1045.4 1281,1043.9 1281.4,1042.6 1282.1,1041.1 1282.7,1039.9 1283.2,1038.7 1283.3,1037.6" fill="none" stroke="#000" stroke-width="6.5" stroke-linejoin="round" stroke-dasharray="7 16" stroke-linecap="round"/>
<polyline points="1143.2,1361.1 1144.1,1360.9 1145.9,1359.4 1148.1,1358.8 1150.3,1358.3 1152.6,1357.4 1155.1,1356.3 1157.7,1354.7 1160,1353.5 1162.2,1353.2 1164.5,1351.9 1166.9,1349.9 1169.3,1349.2 1171.2,1347.9 1173.7,1345.4 1176.3,1344 1178.5,1341.3 1180.9,1338.7 1183.1,1336.4 1185.5,1333.7 1188.1,1330.3 1190.8,1327.2 1193.2,1324 1195.6,1320.4 1197.8,1317.2 1199.6,1313.3 1201.8,1309.3 1204,1305.2 1205.8,1300.4 1208,1296.7 1209.8,1291.4 1211.4,1287.5 1212.9,1284.6 1214,1281.3 1215.4,1277.3 1216.2,1274.5 1217.4,1271.8 1217.9,1268.2 1218.7,1266.2 1219.5,1262.7 1220.5,1259.4 1221.5,1255.1 1222.7,1251.7 1223.5,1248.1 1224.6,1243 1225.3,1239 1226.3,1235.6 1227.4,1230.4 1228,1227 1229.2,1222.1 1230.1,1217.4 1231.2,1213.1 1232.2,1208.8 1232.8,1203.8 1233.8,1199.9 1235,1194.2 1235.7,1190 1236.8,1185.8 1237.7,1181.2 1238.5,1177.1 1239.6,1172.1 1240.6,1168.8 1241.3,1163.2 1242.6,1158.5 1243.5,1153.7 1244.6,1148.2 1246,1142.4 1247.6,1134.8 1248.7,1129 1250.2,1122.5 1251.3,1116.3 1252.2,1110.4 1253.3,1106.4 1254.1,1102.6 1254.3,1099.8 1254.9,1097.2 1255.1,1095.2 1255.3,1093.6 1255.3,1091.8 1255.7,1090.8 1256.1,1087.8 1256.3,1085.2 1256.8,1082.6 1257,1080.9 1257.5,1077.8 1258,1074.9 1258.1,1071.9 1258.5,1069.5 1259.1,1067 1259.6,1063.8 1259.9,1061.1 1259.9,1057.6 1260.4,1055.4 1260.7,1052.1 1261.1,1049.2 1261.2,1045.8 1262,1042.7 1262,1039.8 1262.4,1037.7 1263,1035.3 1263.2,1033 1263.7,1031.5 1264,1028.4 1264.4,1026.9 1264.7,1023.3 1265.2,1021.5 1265.3,1017.9 1265.6,1015.5 1266.2,1012.7 1266.6,1009.2 1266.7,1006.9 1267.2,1003.5 1267.7,1000.5 1267.9,997.7 1268.5,995 1269.3,991.8 1270.1,988.5 1270.7,985.3 1271.6,983.1 1272.2,979.8 1272.5,978 1272.7,974.8 1272.9,972.7 1273.4,970.7 1273.6,969.1 1273.6,967.4 1273.8,965.4 1274,962.8 1274.4,960.2 1274.8,958.1 1275.2,954.6 1275.7,952.3 1276.1,948.2 1276.6,945.7 1276.9,941.3 1277.6,938.9 1278.2,935.3 1278.8,931.9 1279.2,928.3 1279.4,924.9 1280,921.8 1280.7,918.1 1281.4,915.3 1281.5,912.4 1282.1,911.1 1282.2,908.4 1282.7,907.4 1283,906.8 1283.1,906.1 1283.3,905.8 1283.2,906 1283.2,905.6 1283.3,905.2" fill="none" stroke="#ff0000" stroke-width="6" stroke-linejoin="round" stroke-dasharray="6 17" stroke-dashoffset="6" stroke-linecap="round"/>
<polyline points="1142.9,1361.1 1143.2,1360.4 1143.9,1360.6 1144.9,1359.8 1145.1,1358.8 1146,1358.7 1147.1,1357.8 1148.7,1357.9 1149.9,1357.8 1151.6,1356.4 1153.7,1356.2 1156.6,1354.4 1159,1354.5 1161.4,1352.7 1164.1,1352.6 1166.4,1351 1169.1,1349.3 1171.3,1348.5 1173.2,1347 1175.5,1345.1 1178,1342.4 1180.1,1341.7 1181.8,1338.1 1183.7,1337.3 1185.7,1334.7 1187.8,1331.6 1189.8,1327.7 1192.2,1324.3 1193.9,1322.2 1196.1,1318.6 1198.2,1313.7 1199.5,1311.3 1201.5,1306.5 1203.1,1303.1 1204.6,1299.1 1205.9,1296.6 1207.5,1292.5 1208.8,1287.9 1210.2,1283.9 1211.5,1280.5 1212.7,1276.9 1214,1272.4 1215,1269.7 1216.3,1266.2 1216.8,1264 1218.1,1260.4 1218.6,1256.3 1219.5,1252.6 1220.3,1249.6 1221.5,1245.7 1222.5,1240.6 1223.7,1237.2 1224.5,1232.5 1225.6,1228.7 1226.7,1223.9 1227.3,1218.9 1228.1,1215.9 1228.9,1211.1 1229.7,1207 1230.8,1203.3 1231.3,1201.3 1231.7,1197.3 1232.5,1193.2 1233.1,1189.4 1234.2,1186.8 1235,1181.6 1235.6,1178 1236.3,1174.1 1236.8,1170.5 1237.4,1165.9 1238.6,1161.4 1239.2,1158.2 1239.6,1153.9 1240.6,1150.1 1241.2,1146.9 1241.7,1144.2 1242.4,1140.8 1243,1138.2 1243.3,1135.4 1243.9,1132.7 1244.6,1129.2 1245.1,1125.3 1245.4,1121.3 1246.3,1118.4 1246.5,1114.8 1247.1,1110.6 1247.2,1107.7 1247.9,1103.4 1248.6,1099.6 1249.2,1093.8 1249.5,1090.2 1250.4,1084.1 1250.6,1079.1 1251.2,1074.2 1252.2,1069.4 1252.6,1064 1253.1,1061 1253.8,1056.1 1254.2,1053 1254.8,1048.5 1255.2,1045.6 1255.5,1042 1255.9,1038.8 1256.4,1034.6 1256.8,1031.5 1257.3,1026.5 1258.5,1022.1 1258.9,1017.3 1260,1012.1 1260.6,1008.4 1261.1,1002.7 1262.3,998 1262.7,992.3 1263.5,988 1264.4,983.1 1264.9,978.9 1265.8,973.6 1266.3,969.2 1267.3,963.8 1268.1,959.8 1268.4,955 1269.1,949.2 1270.1,944.9 1270.7,940.3 1271.7,935.9 1271.8,930.8 1272.8,925.8 1273.8,921 1274.3,916.9 1275,911.5 1275.8,907.2 1276.7,902.2 1277.3,896.2 1278.3,892.2 1279,887.7 1279.2,882.2 1279.7,878.5 1280.2,872.6 1281,868.4 1280.8,863.5 1281.5,858.3 1281.3,854 1281.7,849.7 1282.2,846.6 1282.2,842.8" fill="none" stroke="#000" stroke-width="3.5" stroke-linejoin="round"/>
<polygon points="1134.8,1357 1135.6,1357.9 1137.9,1355.8 1140.3,1355.4 1143.5,1355.6 1145.8,1354.8 1148.2,1353.9 1152.5,1354.5 1155.5,1352.4 1157.4,1351.1 1160.7,1350.9 1163.3,1350.1 1166.1,1348.7 1169.1,1346.9 1171.8,1346.3 1173,1344.2 1176,1342.8 1178.3,1340.9 1179.9,1340.2 1181.9,1338.2 1184.4,1336.2 1185.7,1335.3 1187.4,1333.5 1188.3,1330.9 1190.2,1328.9 1194.5,1333 1192.7,1335.1 1191.2,1338.6 1188.8,1341.4 1186.3,1344.4 1183.3,1345.5 1181.6,1347.4 1179.1,1349.5 1175.4,1351 1173.9,1354.8 1170.9,1355.6 1168.2,1357.7 1166.3,1357.2 1162.7,1359.6 1160,1361 1157.5,1360.5 1155.1,1361.6 1152.1,1361.9 1149.4,1363 1146.2,1363.2 1143.4,1365.7 1140.4,1363.7 1138.1,1365.2 1135.9,1365.1 1134.4,1364.9" fill="#000" stroke="#000" stroke-width="0.8" stroke-linejoin="round"/>
<text x="1110" y="859.5" font-size="49" stroke="#000" stroke-width="1.6" text-anchor="end">30</text>
<text x="1110" y="1032.6" font-size="49" stroke="#000" stroke-width="1.6" text-anchor="end">20</text>
<text x="1110" y="1205.8" font-size="49" stroke="#000" stroke-width="1.6" text-anchor="end">10</text>
<text x="973.7" y="1440.5" font-size="49" stroke="#000" stroke-width="1.6" text-anchor="middle">-100</text>
<text x="1142.6" y="1440.5" font-size="49" stroke="#000" stroke-width="1.6" text-anchor="middle">0</text>
<text x="1309" y="1440.5" font-size="49" stroke="#000" stroke-width="1.6" text-anchor="middle">100</text>
<text x="985.5" y="1348.6" font-size="47" stroke="#000" stroke-width="1.6">mV</text>
<text x="1152" y="847.5" font-size="50" stroke="#000" stroke-width="1.6">pA/pF</text>
<text x="880.5" y="830" font-size="76" stroke="#000" stroke-width="1.6">d</text>
<text x="1302" y="1093.2" font-size="43.5" stroke="#000" stroke-width="1.6">NRK-49F</text>
<line x1="1310.2" y1="1126.4" x2="1364" y2="1126.4" stroke="#000" stroke-width="5.5" stroke-dasharray="12.6 12.6"/>
<text x="1370.8" y="1138" font-size="43.5" stroke="#000" stroke-width="1.6">control</text>
<text x="1538.5" y="1138" font-size="43.5" stroke="#000" stroke-width="1.6">148s</text>
<line x1="1310.2" y1="1172" x2="1364" y2="1172" stroke="#000" stroke-width="2.6"/>
<text x="1370.8" y="1184" font-size="43.5" stroke="#000" stroke-width="1.6">control</text>
<text x="1538.5" y="1184" font-size="43.5" stroke="#000" stroke-width="1.6">300s</text>
<line x1="1310.2" y1="1217.4" x2="1364" y2="1217.4" stroke="#ff0000" stroke-width="5.5" stroke-dasharray="12.6 12.6"/>
<text x="1370.8" y="1229.5" font-size="43.5" stroke="#000" stroke-width="1.6">NS8593</text>
<text x="1538.5" y="1229.5" font-size="43.5" stroke="#000" stroke-width="1.6">148s</text>
<line x1="1310.2" y1="1265.3" x2="1364" y2="1265.3" stroke="#ff0000" stroke-width="2.6"/>
<text x="1370.8" y="1276.5" font-size="43.5" stroke="#000" stroke-width="1.6">NS8593</text>
<text x="1538.5" y="1276.5" font-size="43.5" stroke="#000" stroke-width="1.6">300s</text>
</svg>
</body></html>
